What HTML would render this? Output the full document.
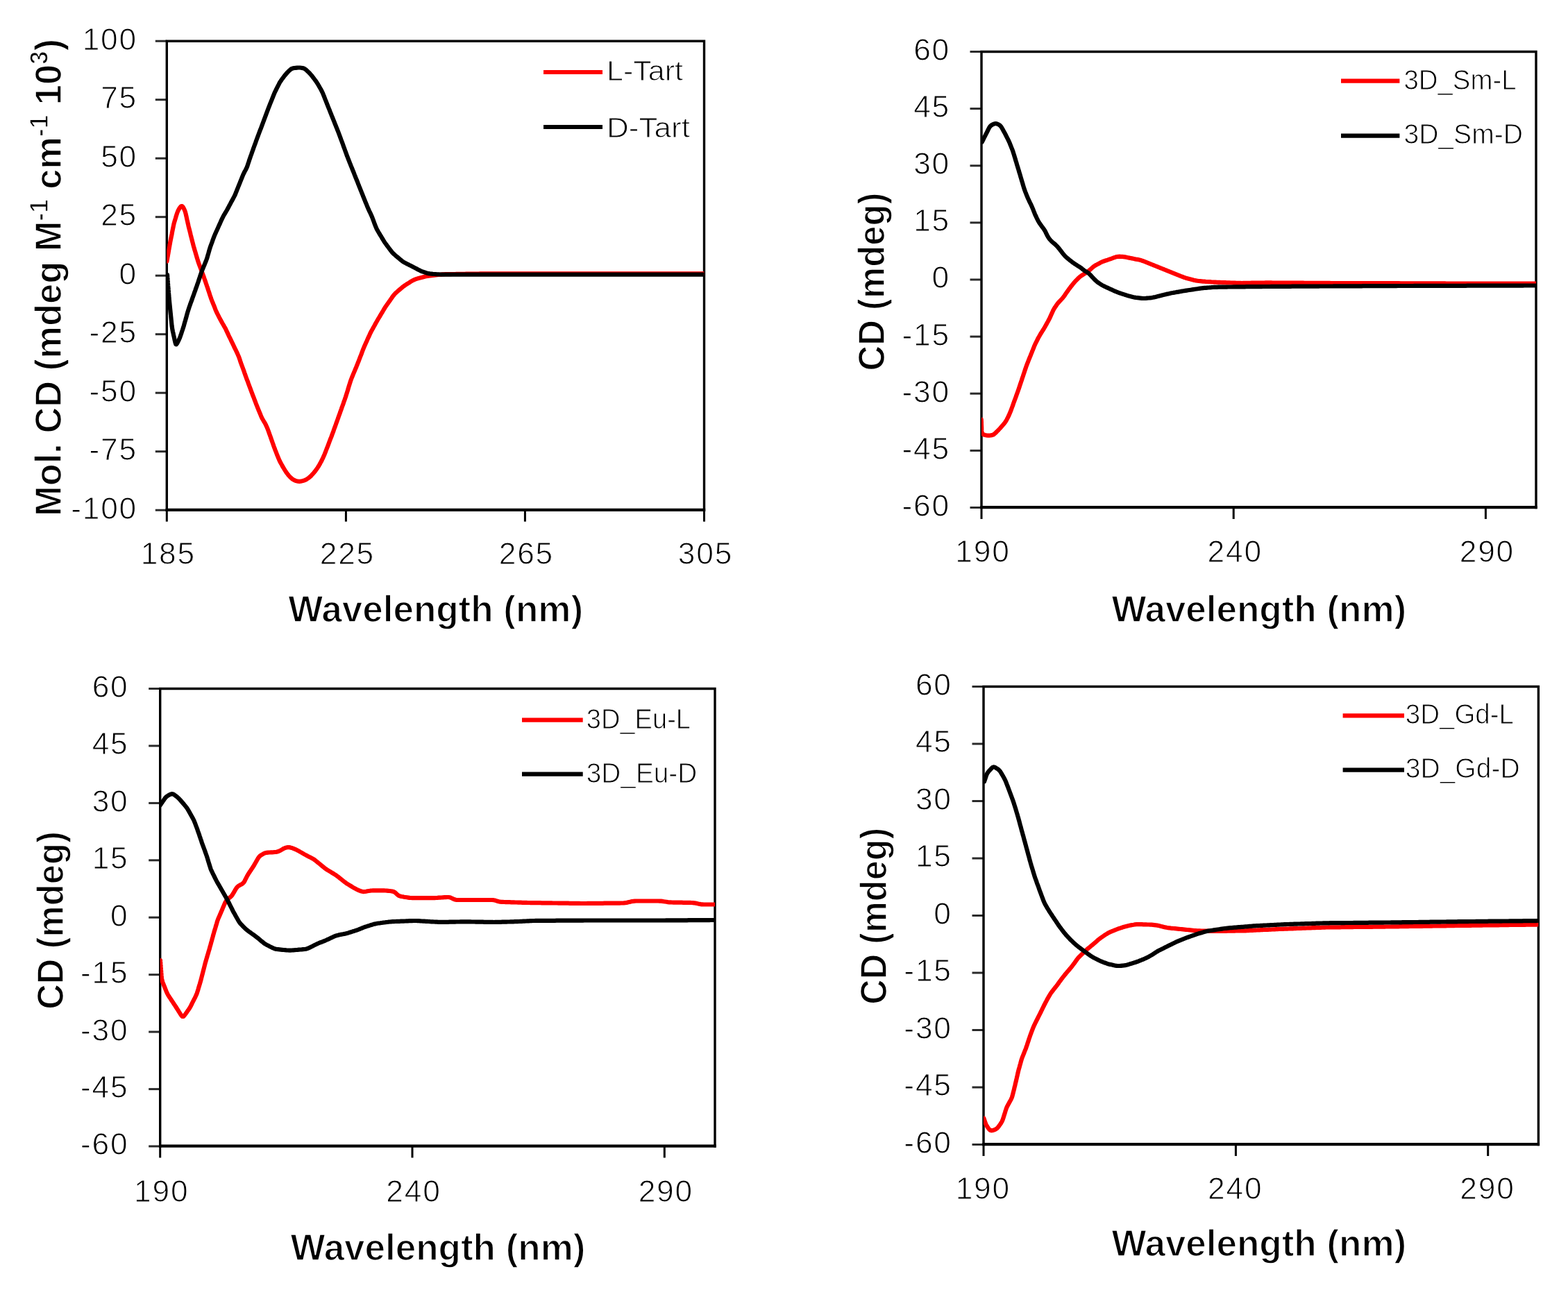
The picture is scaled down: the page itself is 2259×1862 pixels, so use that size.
<!DOCTYPE html>
<html><head><meta charset="utf-8"><title>CD spectra</title>
<style>
html,body{margin:0;padding:0;background:#fff;width:2259px;height:1862px;overflow:hidden}
svg{display:block}
.t{font-family:"Liberation Sans", Arial, sans-serif;font-size:44.3px;letter-spacing:1.8px;fill:#000;stroke:#fff;stroke-width:1px}
.l{font-family:"Liberation Sans", Arial, sans-serif;font-size:40px;fill:#000;stroke:#fff;stroke-width:1px}
.b{font-family:"Liberation Sans", Arial, sans-serif;font-size:54px;font-weight:bold;fill:#000;stroke:#fff;stroke-width:1.5px}
</style></head><body>
<svg width="2259" height="1862" viewBox="0 0 2259 1862">
<rect width="2259" height="1862" fill="#fff"/>
<line x1="223.8" y1="59.2" x2="240.3" y2="59.2" stroke="#2a2a2a" stroke-width="3.0"/>
<text x="198.0" y="71.6" text-anchor="end" class="t">100</text>
<line x1="223.8" y1="143.7" x2="240.3" y2="143.7" stroke="#2a2a2a" stroke-width="3.0"/>
<text x="198.0" y="156.1" text-anchor="end" class="t">75</text>
<line x1="223.8" y1="228.2" x2="240.3" y2="228.2" stroke="#2a2a2a" stroke-width="3.0"/>
<text x="198.0" y="240.6" text-anchor="end" class="t">50</text>
<line x1="223.8" y1="312.7" x2="240.3" y2="312.7" stroke="#2a2a2a" stroke-width="3.0"/>
<text x="198.0" y="325.1" text-anchor="end" class="t">25</text>
<line x1="223.8" y1="397.2" x2="240.3" y2="397.2" stroke="#2a2a2a" stroke-width="3.0"/>
<text x="198.0" y="409.6" text-anchor="end" class="t">0</text>
<line x1="223.8" y1="481.7" x2="240.3" y2="481.7" stroke="#2a2a2a" stroke-width="3.0"/>
<text x="198.0" y="494.1" text-anchor="end" class="t">-25</text>
<line x1="223.8" y1="566.2" x2="240.3" y2="566.2" stroke="#2a2a2a" stroke-width="3.0"/>
<text x="198.0" y="578.6" text-anchor="end" class="t">-50</text>
<line x1="223.8" y1="650.7" x2="240.3" y2="650.7" stroke="#2a2a2a" stroke-width="3.0"/>
<text x="198.0" y="663.1" text-anchor="end" class="t">-75</text>
<line x1="223.8" y1="735.2" x2="240.3" y2="735.2" stroke="#2a2a2a" stroke-width="3.0"/>
<text x="198.0" y="747.6" text-anchor="end" class="t">-100</text>
<line x1="240.3" y1="735.2" x2="240.3" y2="751.7" stroke="#000" stroke-width="3.0"/>
<text x="242.3" y="813.0" text-anchor="middle" class="t">185</text>
<line x1="498.4" y1="735.2" x2="498.4" y2="751.7" stroke="#000" stroke-width="3.0"/>
<text x="500.4" y="813.0" text-anchor="middle" class="t">225</text>
<line x1="756.4" y1="735.2" x2="756.4" y2="751.7" stroke="#000" stroke-width="3.0"/>
<text x="758.4" y="813.0" text-anchor="middle" class="t">265</text>
<line x1="1014.5" y1="735.2" x2="1014.5" y2="751.7" stroke="#000" stroke-width="3.0"/>
<text x="1016.5" y="813.0" text-anchor="middle" class="t">305</text>
<path d="M240.3,735.2 V59.2 H1014.5 V735.2" fill="none" stroke="#000" stroke-width="3.4" stroke-linecap="square"/>
<line x1="238.6" y1="734.9" x2="1016.2" y2="734.9" stroke="#000" stroke-width="4.3"/>
<clipPath id="c1"><rect x="240.3" y="59.2" width="774.2" height="676.0"/></clipPath>
<g clip-path="url(#c1)" fill="none" stroke-width="6.2" stroke-linejoin="round" stroke-linecap="round">
<path d="M240.4,376.7 240.7,374.7 241.1,372.8 241.4,370.8 241.8,368.8 242.1,366.8 242.5,364.9 242.8,362.9 243.1,360.9 243.5,358.9 243.8,357.0 244.2,355.0 244.5,353.0 244.9,351.1 245.2,349.1 245.6,347.1 246.0,345.2 246.4,343.2 246.8,341.2 247.2,339.3 247.6,337.3 247.9,335.3 248.3,333.4 248.7,331.4 249.1,329.4 249.5,327.5 249.9,325.5 250.3,323.6 250.8,321.6 251.3,319.7 251.9,317.8 252.5,315.9 253.1,313.9 253.6,312.0 254.2,310.1 254.8,308.2 255.5,306.3 256.2,304.5 257.0,302.7 258.0,301.0 259.1,299.3 260.2,297.9 261.3,297.0 262.3,297.1 263.4,298.1 264.4,299.7 265.3,301.4 266.1,303.2 266.8,305.1 267.3,307.0 267.8,308.9 268.2,310.9 268.7,312.8 269.1,314.8 269.5,316.7 270.0,318.7 270.4,320.7 270.8,322.6 271.3,324.6 271.7,326.5 272.2,328.5 272.7,330.4 273.2,332.3 273.7,334.3 274.2,336.2 274.6,338.2 275.1,340.1 275.6,342.0 276.1,344.0 276.6,345.9 277.1,347.9 277.6,349.8 278.1,351.8 278.6,353.7 279.1,355.6 279.7,357.5 280.2,359.5 280.8,361.4 281.4,363.3 281.9,365.2 282.5,367.1 283.1,369.1 283.6,371.0 284.2,372.9 284.8,374.8 285.4,376.7 286.0,378.6 286.7,380.5 287.4,382.4 288.1,384.3 288.8,386.1 289.5,388.0 290.2,389.9 290.9,391.8 291.6,393.6 292.3,395.5 293.0,397.4 293.7,399.3 294.3,401.2 295.0,403.1 295.6,404.9 296.3,406.8 296.9,408.7 297.6,410.6 298.2,412.5 298.9,414.4 299.5,416.3 300.1,418.2 300.8,420.1 301.4,422.0 302.0,423.9 302.6,425.8 303.3,427.7 303.9,429.6 304.6,431.5 305.3,433.4 306.1,435.2 306.8,437.1 307.6,438.9 308.4,440.8 309.1,442.6 309.8,444.5 310.5,446.4 311.3,448.2 312.1,450.0 313.0,451.8 313.9,453.6 314.8,455.4 315.7,457.2 316.7,459.0 317.6,460.7 318.6,462.5 319.5,464.2 320.5,466.0 321.5,467.7 322.5,469.4 323.5,471.2 324.5,472.9 325.4,474.7 326.2,476.5 327.1,478.3 327.9,480.2 328.8,482.0 329.6,483.8 330.5,485.6 331.4,487.4 332.3,489.2 333.1,491.0 334.0,492.8 334.9,494.6 335.7,496.4 336.6,498.2 337.4,500.0 338.3,501.8 339.2,503.6 340.1,505.4 340.9,507.2 341.8,509.0 342.6,510.9 343.4,512.7 344.2,514.5 344.8,516.4 345.5,518.3 346.1,520.2 346.7,522.1 347.4,524.0 348.1,525.9 348.8,527.8 349.5,529.6 350.2,531.5 350.9,533.4 351.6,535.3 352.2,537.2 352.9,539.1 353.5,540.9 354.2,542.8 354.9,544.7 355.6,546.6 356.3,548.5 357.1,550.3 357.7,552.2 358.4,554.1 359.1,556.0 359.8,557.9 360.5,559.7 361.2,561.6 361.9,563.5 362.6,565.4 363.3,567.2 364.0,569.1 364.7,571.0 365.5,572.8 366.2,574.7 366.9,576.6 367.6,578.4 368.3,580.3 369.0,582.2 369.8,584.1 370.5,585.9 371.2,587.8 372.0,589.6 372.7,591.5 373.5,593.3 374.3,595.2 375.1,597.0 375.8,598.9 376.6,600.7 377.4,602.5 378.4,604.3 379.4,606.0 380.4,607.7 381.5,609.4 382.4,611.2 383.3,613.0 384.1,614.8 384.9,616.6 385.7,618.5 386.4,620.3 387.1,622.2 387.7,624.1 388.4,626.0 389.1,627.9 389.8,629.8 390.4,631.7 391.1,633.5 391.7,635.4 392.4,637.3 393.1,639.2 393.8,641.1 394.4,643.0 395.1,644.9 395.8,646.7 396.5,648.6 397.3,650.5 398.0,652.3 398.7,654.2 399.4,656.1 400.2,657.9 400.9,659.8 401.7,661.6 402.5,663.4 403.4,665.3 404.3,667.0 405.3,668.8 406.3,670.5 407.2,672.3 408.3,674.0 409.3,675.7 410.3,677.4 411.4,679.1 412.5,680.8 413.7,682.4 414.9,684.0 416.1,685.5 417.5,687.0 418.9,688.4 420.4,689.7 422.0,690.9 423.7,691.9 425.5,692.7 427.4,693.3 429.3,693.7 431.2,693.8 433.2,693.7 435.1,693.3 437.0,692.8 438.9,692.1 440.7,691.3 442.4,690.3 444.0,689.2 445.6,688.0 447.2,686.7 448.6,685.3 449.9,683.8 451.3,682.4 452.6,680.8 453.8,679.3 455.0,677.7 456.2,676.0 457.3,674.4 458.4,672.7 459.5,671.0 460.5,669.3 461.4,667.5 462.4,665.8 463.3,664.0 464.2,662.2 465.1,660.4 465.9,658.6 466.7,656.7 467.5,654.9 468.2,653.1 469.0,651.2 469.7,649.3 470.4,647.5 471.1,645.6 471.9,643.7 472.6,641.9 473.3,640.0 474.0,638.1 474.7,636.2 475.4,634.4 476.1,632.5 476.9,630.6 477.6,628.8 478.3,626.9 479.0,625.0 479.7,623.1 480.4,621.3 481.0,619.4 481.7,617.5 482.4,615.6 483.1,613.7 483.8,611.8 484.4,610.0 485.1,608.1 485.8,606.2 486.5,604.3 487.2,602.4 487.8,600.5 488.5,598.7 489.2,596.8 489.9,594.9 490.5,593.0 491.2,591.1 491.9,589.2 492.5,587.3 493.2,585.5 493.9,583.6 494.6,581.7 495.2,579.8 495.9,577.9 496.6,576.0 497.2,574.1 497.9,572.2 498.5,570.3 499.1,568.4 499.7,566.5 500.3,564.6 500.9,562.7 501.5,560.8 502.0,558.9 502.6,556.9 503.2,555.0 503.8,553.1 504.4,551.2 505.0,549.3 505.7,547.4 506.4,545.5 507.1,543.7 507.9,541.8 508.6,540.0 509.4,538.1 510.2,536.3 511.0,534.4 511.7,532.6 512.5,530.7 513.3,528.9 514.0,527.0 514.8,525.2 515.5,523.3 516.3,521.5 517.0,519.6 517.7,517.7 518.4,515.9 519.1,514.0 519.9,512.1 520.6,510.3 521.3,508.4 522.0,506.5 522.7,504.6 523.5,502.8 524.2,500.9 525.0,499.1 525.8,497.2 526.6,495.4 527.4,493.6 528.3,491.8 529.1,489.9 529.9,488.1 530.7,486.3 531.6,484.5 532.4,482.7 533.2,480.8 534.1,479.0 535.0,477.3 536.0,475.5 537.0,473.8 537.9,472.0 538.9,470.3 539.9,468.5 540.8,466.8 541.8,465.0 542.8,463.3 543.8,461.5 544.8,459.8 545.8,458.1 546.9,456.4 547.9,454.6 548.9,452.9 549.9,451.2 551.0,449.5 552.0,447.8 553.0,446.0 554.1,444.3 555.1,442.6 556.2,441.0 557.4,439.3 558.5,437.7 559.7,436.0 560.8,434.4 562.0,432.8 563.1,431.1 564.3,429.5 565.4,427.8 566.6,426.2 567.8,424.7 569.1,423.2 570.6,421.8 572.1,420.5 573.6,419.2 575.1,417.9 576.6,416.6 578.1,415.3 579.7,414.0 581.3,412.7 582.9,411.6 584.5,410.5 586.2,409.4 587.9,408.3 589.6,407.3 591.3,406.2 593.0,405.2 594.7,404.2 596.5,403.3 598.3,402.5 600.2,401.9 602.2,401.3 604.1,400.8 606.0,400.3 608.0,399.8 609.9,399.2 611.8,398.7 613.8,398.3 615.7,397.9 617.7,397.6 619.7,397.4 621.7,397.1 623.7,396.9 625.7,396.6 627.6,396.4 629.6,396.2 631.6,396.0 633.6,395.8 635.6,395.6 637.6,395.4 639.6,395.3 641.6,395.2 643.6,395.2 645.6,395.1 647.6,395.1 649.6,395.1 651.6,395.0 653.6,395.0 655.6,395.0 657.6,394.9 659.6,394.9 661.6,394.9 663.6,394.8 665.6,394.8 667.6,394.8 669.6,394.8 671.6,394.7 673.6,394.7 675.6,394.7 677.6,394.6 679.6,394.6 681.6,394.6 683.6,394.5 685.6,394.5 687.6,394.5 689.6,394.5 691.7,394.4 693.7,394.4 695.7,394.4 697.7,394.3 699.7,394.3 701.7,394.3 703.7,394.3 705.7,394.3 707.7,394.3 709.7,394.3 711.7,394.3 713.7,394.3 715.7,394.3 717.7,394.3 719.7,394.3 721.7,394.3 723.7,394.3 725.7,394.3 727.7,394.3 729.7,394.3 731.7,394.3 733.7,394.3 735.7,394.3 737.7,394.3 739.7,394.3 741.7,394.3 743.7,394.3 745.7,394.3 747.7,394.3 749.7,394.3 751.7,394.3 753.7,394.3 755.7,394.3 757.7,394.3 759.7,394.3 761.7,394.3 763.7,394.3 765.7,394.3 767.7,394.3 769.7,394.3 771.7,394.3 773.7,394.3 775.7,394.4 777.7,394.4 779.7,394.4 781.7,394.4 783.7,394.4 785.8,394.4 787.8,394.4 789.8,394.4 791.8,394.4 793.8,394.4 795.8,394.4 797.8,394.4 799.8,394.4 801.8,394.4 803.8,394.4 805.8,394.4 807.8,394.4 809.8,394.4 811.8,394.4 813.8,394.4 815.8,394.4 817.8,394.4 819.8,394.4 821.8,394.4 823.8,394.4 825.8,394.4 827.8,394.4 829.8,394.4 831.8,394.4 833.8,394.4 835.8,394.4 837.8,394.4 839.8,394.4 841.8,394.4 843.8,394.4 845.8,394.4 847.8,394.4 849.8,394.4 851.8,394.4 853.8,394.4 855.8,394.4 857.8,394.4 859.8,394.4 861.8,394.4 863.8,394.4 865.8,394.4 867.8,394.4 869.8,394.4 871.8,394.4 873.8,394.4 875.8,394.4 877.9,394.4 879.9,394.4 881.9,394.4 883.9,394.4 885.9,394.4 887.9,394.4 889.9,394.4 891.9,394.4 893.9,394.4 895.9,394.4 897.9,394.4 899.9,394.4 901.9,394.4 903.9,394.4 905.9,394.4 907.9,394.4 909.9,394.4 911.9,394.4 913.9,394.4 915.9,394.4 917.9,394.4 919.9,394.4 921.9,394.4 923.9,394.4 925.9,394.4 927.9,394.4 929.9,394.4 931.9,394.4 933.9,394.4 935.9,394.4 937.9,394.4 939.9,394.4 941.9,394.4 943.9,394.4 945.9,394.4 947.9,394.4 949.9,394.4 951.9,394.4 953.9,394.4 955.9,394.4 957.9,394.4 959.9,394.4 961.9,394.4 963.9,394.4 965.9,394.4 967.9,394.4 970.0,394.4 972.0,394.4 974.0,394.4 976.0,394.4 978.0,394.4 980.0,394.4 982.0,394.4 984.0,394.4 986.0,394.4 988.0,394.4 990.0,394.4 992.0,394.4 994.0,394.4 996.0,394.4 998.0,394.4 1000.0,394.4 1002.0,394.4 1004.0,394.4 1006.0,394.4 1008.0,394.4 1010.0,394.4 1012.0,394.4 1014.0,394.4 1016.0,394.4 1016.0,394.4" stroke="#ff0000"/>
<path d="M241.0,396.0 241.2,398.0 241.3,400.0 241.5,402.0 241.6,404.0 241.8,406.0 241.9,408.0 242.1,410.0 242.2,412.0 242.4,414.0 242.6,416.0 242.7,418.0 242.9,420.0 243.0,422.0 243.2,423.9 243.3,425.9 243.5,427.9 243.6,429.9 243.8,431.9 244.0,433.9 244.2,435.9 244.4,437.9 244.6,439.9 244.8,441.9 245.0,443.9 245.2,445.9 245.4,447.9 245.6,449.9 245.8,451.9 246.0,453.8 246.2,455.8 246.4,457.8 246.6,459.8 246.8,461.8 247.0,463.8 247.2,465.8 247.4,467.8 247.6,469.8 247.9,471.8 248.2,473.7 248.5,475.7 248.9,477.7 249.4,479.6 249.8,481.6 250.2,483.5 250.7,485.5 251.1,487.4 251.5,489.4 252.0,491.4 252.4,493.3 252.9,495.0 253.4,496.2 254.0,496.4 254.8,495.4 255.7,493.9 256.6,492.1 257.5,490.3 258.3,488.5 259.1,486.7 259.8,484.8 260.4,482.9 261.1,481.0 261.7,479.1 262.3,477.2 263.0,475.3 263.6,473.4 264.2,471.5 264.8,469.6 265.3,467.7 265.9,465.7 266.4,463.8 267.0,461.9 267.5,460.0 268.1,458.0 268.6,456.1 269.1,454.2 269.7,452.2 270.2,450.3 270.8,448.4 271.4,446.5 272.0,444.6 272.6,442.7 273.3,440.8 274.0,438.9 274.6,437.0 275.3,435.1 276.0,433.3 276.7,431.4 277.3,429.5 278.0,427.6 278.7,425.7 279.4,423.8 280.0,421.9 280.7,420.1 281.4,418.2 282.0,416.3 282.7,414.4 283.4,412.5 284.0,410.6 284.7,408.7 285.4,406.8 286.0,404.9 286.6,403.0 287.3,401.1 287.9,399.2 288.5,397.3 289.2,395.4 289.8,393.5 290.5,391.7 291.2,389.8 291.9,387.9 292.7,386.1 293.4,384.2 294.2,382.4 295.0,380.5 295.7,378.7 296.5,376.8 297.2,375.0 297.9,373.1 298.5,371.2 299.1,369.2 299.6,367.3 300.2,365.4 300.7,363.5 301.3,361.5 301.8,359.6 302.4,357.7 303.0,355.8 303.7,353.9 304.4,352.0 305.1,350.2 305.8,348.3 306.4,346.4 307.1,344.5 307.8,342.6 308.5,340.8 309.3,338.9 310.1,337.1 310.9,335.3 311.7,333.4 312.6,331.6 313.4,329.8 314.2,328.0 315.0,326.1 315.8,324.3 316.7,322.5 317.5,320.6 318.3,318.8 319.1,317.0 320.0,315.2 320.8,313.4 321.8,311.6 322.7,309.9 323.8,308.1 324.8,306.4 325.8,304.7 326.8,303.0 327.8,301.2 328.7,299.5 329.7,297.7 330.6,295.9 331.6,294.2 332.5,292.4 333.4,290.6 334.4,288.9 335.4,287.1 336.3,285.3 337.2,283.6 338.1,281.8 339.0,280.0 339.7,278.1 340.5,276.3 341.2,274.4 341.9,272.5 342.7,270.7 343.4,268.8 344.2,267.0 344.9,265.1 345.7,263.2 346.4,261.4 347.2,259.5 347.9,257.7 348.7,255.8 349.4,253.9 350.2,252.1 351.0,250.3 351.9,248.5 352.8,246.7 353.8,245.0 354.7,243.2 355.5,241.4 356.3,239.5 356.9,237.6 357.5,235.7 358.2,233.8 358.8,231.9 359.4,230.0 360.1,228.1 360.7,226.2 361.4,224.3 362.1,222.5 362.7,220.6 363.4,218.7 364.1,216.8 364.8,214.9 365.4,213.0 366.1,211.2 366.8,209.3 367.5,207.4 368.2,205.5 368.8,203.6 369.5,201.7 370.2,199.9 370.9,198.0 371.6,196.1 372.3,194.2 373.0,192.4 373.7,190.5 374.4,188.6 375.1,186.7 375.9,184.9 376.6,183.0 377.3,181.1 378.0,179.2 378.7,177.4 379.4,175.5 380.1,173.6 380.8,171.7 381.5,169.9 382.2,168.0 382.9,166.1 383.6,164.2 384.3,162.4 385.0,160.5 385.7,158.6 386.4,156.7 387.1,154.9 387.9,153.0 388.6,151.2 389.3,149.3 390.1,147.4 390.8,145.6 391.6,143.7 392.3,141.9 393.1,140.0 393.8,138.1 394.6,136.3 395.3,134.4 396.1,132.6 397.0,130.8 397.9,129.0 398.8,127.2 399.7,125.4 400.6,123.6 401.5,121.9 402.4,120.1 403.4,118.3 404.5,116.7 405.6,115.0 406.8,113.4 408.0,111.8 409.2,110.2 410.4,108.6 411.7,107.1 413.0,105.6 414.3,104.1 415.7,102.7 417.2,101.3 418.7,100.0 420.3,99.0 422.1,98.4 424.0,98.0 426.0,97.8 428.0,97.6 430.0,97.5 431.9,97.5 433.9,97.8 435.9,98.1 437.7,98.6 439.4,99.5 441.0,100.6 442.4,102.0 443.9,103.4 445.3,104.8 446.7,106.2 448.0,107.7 449.3,109.2 450.5,110.8 451.7,112.4 452.9,114.0 454.1,115.6 455.3,117.2 456.4,118.9 457.5,120.6 458.5,122.3 459.5,124.0 460.5,125.8 461.5,127.5 462.5,129.3 463.4,131.0 464.3,132.8 465.1,134.6 465.9,136.5 466.6,138.3 467.4,140.2 468.1,142.1 468.8,143.9 469.6,145.8 470.3,147.6 471.0,149.5 471.8,151.4 472.5,153.2 473.3,155.1 474.0,156.9 474.8,158.8 475.5,160.7 476.2,162.5 477.0,164.4 477.7,166.2 478.5,168.1 479.2,170.0 480.0,171.8 480.7,173.7 481.5,175.5 482.2,177.4 482.9,179.3 483.7,181.1 484.4,183.0 485.2,184.8 485.9,186.7 486.7,188.6 487.4,190.4 488.1,192.3 488.8,194.1 489.5,196.0 490.2,197.9 490.9,199.8 491.6,201.7 492.3,203.5 493.0,205.4 493.7,207.3 494.4,209.2 495.0,211.1 495.7,212.9 496.4,214.8 497.1,216.7 497.8,218.6 498.5,220.5 499.2,222.4 499.8,224.2 500.6,226.1 501.3,228.0 502.0,229.8 502.8,231.7 503.5,233.6 504.2,235.4 505.0,237.3 505.7,239.1 506.5,241.0 507.2,242.8 508.0,244.7 508.7,246.6 509.5,248.4 510.2,250.3 510.9,252.1 511.7,254.0 512.4,255.9 513.2,257.7 513.9,259.6 514.7,261.4 515.4,263.3 516.1,265.2 516.9,267.0 517.6,268.9 518.4,270.7 519.1,272.6 519.8,274.5 520.6,276.3 521.3,278.2 522.1,280.0 522.8,281.9 523.5,283.8 524.3,285.6 525.0,287.5 525.8,289.3 526.5,291.2 527.3,293.0 528.1,294.9 528.8,296.7 529.6,298.6 530.4,300.4 531.2,302.3 532.0,304.1 532.9,305.9 533.8,307.7 534.6,309.5 535.4,311.3 536.2,313.2 536.9,315.0 537.6,316.9 538.3,318.8 539.0,320.7 539.7,322.6 540.4,324.4 541.1,326.3 541.9,328.1 542.7,329.9 543.7,331.7 544.7,333.5 545.7,335.2 546.7,336.9 547.7,338.6 548.8,340.3 549.8,342.0 550.8,343.8 551.9,345.5 552.9,347.2 554.0,348.9 555.1,350.5 556.3,352.1 557.5,353.8 558.7,355.4 559.9,357.0 561.1,358.6 562.3,360.2 563.5,361.7 564.7,363.3 566.1,364.8 567.5,366.2 569.0,367.5 570.5,368.8 572.1,370.1 573.6,371.4 575.1,372.7 576.6,374.0 578.2,375.2 579.7,376.5 581.4,377.6 583.1,378.6 584.9,379.5 586.7,380.4 588.5,381.3 590.2,382.2 592.0,383.1 593.8,384.0 595.6,384.9 597.4,385.9 599.2,386.8 600.9,387.7 602.7,388.7 604.5,389.6 606.2,390.5 608.1,391.3 610.0,391.9 611.9,392.5 613.8,393.1 615.7,393.7 617.6,394.1 619.6,394.5 621.6,394.7 623.6,394.9 625.6,395.0 627.6,395.1 629.6,395.3 631.6,395.4 633.6,395.5 635.6,395.6 637.6,395.6 639.6,395.6 641.6,395.6 643.6,395.6 645.6,395.6 647.6,395.6 649.6,395.6 651.6,395.6 653.6,395.6 655.6,395.6 657.6,395.6 659.6,395.6 661.6,395.6 663.6,395.6 665.6,395.6 667.6,395.6 669.6,395.6 671.6,395.6 673.6,395.6 675.6,395.6 677.6,395.6 679.6,395.6 681.6,395.6 683.6,395.6 685.6,395.6 687.6,395.6 689.6,395.6 691.6,395.6 693.6,395.6 695.6,395.6 697.6,395.6 699.6,395.6 701.6,395.6 703.6,395.6 705.6,395.6 707.6,395.6 709.6,395.6 711.6,395.6 713.7,395.6 715.7,395.6 717.7,395.7 719.7,395.7 721.7,395.7 723.7,395.7 725.7,395.7 727.7,395.7 729.7,395.7 731.7,395.7 733.7,395.7 735.7,395.7 737.7,395.7 739.7,395.7 741.7,395.7 743.7,395.7 745.7,395.7 747.7,395.7 749.7,395.7 751.7,395.7 753.7,395.7 755.7,395.7 757.7,395.7 759.7,395.7 761.7,395.7 763.7,395.7 765.7,395.7 767.7,395.7 769.7,395.7 771.7,395.7 773.7,395.7 775.7,395.7 777.7,395.7 779.7,395.7 781.7,395.7 783.7,395.7 785.7,395.7 787.7,395.7 789.7,395.7 791.7,395.7 793.7,395.7 795.7,395.7 797.7,395.7 799.8,395.7 801.8,395.7 803.8,395.7 805.8,395.7 807.8,395.7 809.8,395.7 811.8,395.7 813.8,395.7 815.8,395.7 817.8,395.7 819.8,395.7 821.8,395.7 823.8,395.7 825.8,395.7 827.8,395.7 829.8,395.7 831.8,395.7 833.8,395.7 835.8,395.7 837.8,395.7 839.8,395.7 841.8,395.7 843.8,395.7 845.8,395.7 847.8,395.7 849.8,395.7 851.8,395.7 853.8,395.7 855.8,395.7 857.8,395.7 859.8,395.7 861.8,395.7 863.8,395.7 865.8,395.7 867.8,395.7 869.8,395.7 871.8,395.7 873.8,395.7 875.8,395.7 877.8,395.7 879.8,395.7 881.8,395.7 883.8,395.7 885.9,395.7 887.9,395.7 889.9,395.7 891.9,395.7 893.9,395.7 895.9,395.7 897.9,395.7 899.9,395.7 901.9,395.7 903.9,395.7 905.9,395.7 907.9,395.7 909.9,395.7 911.9,395.7 913.9,395.7 915.9,395.7 917.9,395.7 919.9,395.7 921.9,395.7 923.9,395.7 925.9,395.7 927.9,395.7 929.9,395.7 931.9,395.7 933.9,395.7 935.9,395.7 937.9,395.7 939.9,395.7 941.9,395.7 943.9,395.7 945.9,395.7 947.9,395.7 949.9,395.7 951.9,395.7 953.9,395.7 955.9,395.7 957.9,395.7 959.9,395.7 961.9,395.7 963.9,395.7 965.9,395.7 967.9,395.7 969.9,395.7 971.9,395.7 974.0,395.7 976.0,395.7 978.0,395.7 980.0,395.7 982.0,395.7 984.0,395.7 986.0,395.7 988.0,395.7 990.0,395.7 992.0,395.7 994.0,395.7 996.0,395.7 998.0,395.7 1000.0,395.7 1002.0,395.7 1004.0,395.7 1006.0,395.7 1008.0,395.7 1010.0,395.7 1012.0,395.7 1014.0,395.7 1016.0,395.7 1016.0,395.7" stroke="#000"/>
</g>
<text x="415.3" y="895.5" textLength="424.8" lengthAdjust="spacingAndGlyphs" class="b">Wavelength (nm)</text>
<text transform="translate(87.7,744.0) rotate(-90)" x="0" y="0" textLength="688.0" lengthAdjust="spacingAndGlyphs" class="b">Mol. CD (mdeg M<tspan font-size="36" dy="-18.7">-1</tspan><tspan dy="18.7"> cm</tspan><tspan font-size="36" dy="-18.7">-1</tspan><tspan dy="18.7"> 10</tspan><tspan font-size="36" dy="-18.7">3</tspan><tspan dy="18.7">)</tspan></text>
<line x1="783.0" y1="104.0" x2="868.0" y2="104.0" stroke="#ff0000" stroke-width="6.2"/>
<text x="874.0" y="115.6" textLength="110.0" lengthAdjust="spacingAndGlyphs" class="l">L-Tart</text>
<line x1="783.0" y1="183.0" x2="868.0" y2="183.0" stroke="#000" stroke-width="6.2"/>
<text x="874.0" y="197.6" textLength="120.0" lengthAdjust="spacingAndGlyphs" class="l">D-Tart</text>
<line x1="1397.5" y1="74.5" x2="1414.0" y2="74.5" stroke="#2a2a2a" stroke-width="3.0"/>
<text x="1369.0" y="86.9" text-anchor="end" class="t">60</text>
<line x1="1397.5" y1="156.6" x2="1414.0" y2="156.6" stroke="#2a2a2a" stroke-width="3.0"/>
<text x="1369.0" y="169.0" text-anchor="end" class="t">45</text>
<line x1="1397.5" y1="238.8" x2="1414.0" y2="238.8" stroke="#2a2a2a" stroke-width="3.0"/>
<text x="1369.0" y="251.2" text-anchor="end" class="t">30</text>
<line x1="1397.5" y1="320.9" x2="1414.0" y2="320.9" stroke="#2a2a2a" stroke-width="3.0"/>
<text x="1369.0" y="333.3" text-anchor="end" class="t">15</text>
<line x1="1397.5" y1="403.0" x2="1414.0" y2="403.0" stroke="#2a2a2a" stroke-width="3.0"/>
<text x="1369.0" y="415.4" text-anchor="end" class="t">0</text>
<line x1="1397.5" y1="485.1" x2="1414.0" y2="485.1" stroke="#2a2a2a" stroke-width="3.0"/>
<text x="1369.0" y="497.5" text-anchor="end" class="t">-15</text>
<line x1="1397.5" y1="567.2" x2="1414.0" y2="567.2" stroke="#2a2a2a" stroke-width="3.0"/>
<text x="1369.0" y="579.6" text-anchor="end" class="t">-30</text>
<line x1="1397.5" y1="649.4" x2="1414.0" y2="649.4" stroke="#2a2a2a" stroke-width="3.0"/>
<text x="1369.0" y="661.8" text-anchor="end" class="t">-45</text>
<line x1="1397.5" y1="731.5" x2="1414.0" y2="731.5" stroke="#2a2a2a" stroke-width="3.0"/>
<text x="1369.0" y="743.9" text-anchor="end" class="t">-60</text>
<line x1="1414.0" y1="731.5" x2="1414.0" y2="748.0" stroke="#000" stroke-width="3.0"/>
<text x="1416.0" y="810.4" text-anchor="middle" class="t">190</text>
<line x1="1777.2" y1="731.5" x2="1777.2" y2="748.0" stroke="#000" stroke-width="3.0"/>
<text x="1779.2" y="810.4" text-anchor="middle" class="t">240</text>
<line x1="2140.4" y1="731.5" x2="2140.4" y2="748.0" stroke="#000" stroke-width="3.0"/>
<text x="2142.4" y="810.4" text-anchor="middle" class="t">290</text>
<path d="M1414.0,731.5 V74.5 H2213.0 V731.5" fill="none" stroke="#000" stroke-width="3.4" stroke-linecap="square"/>
<line x1="1412.3" y1="731.2" x2="2214.7" y2="731.2" stroke="#000" stroke-width="4.3"/>
<clipPath id="c2"><rect x="1414.0" y="74.5" width="799.0" height="657.0"/></clipPath>
<g clip-path="url(#c2)" fill="none" stroke-width="6.2" stroke-linejoin="round" stroke-linecap="round">
<path d="M1413.7,604.7 1413.8,606.7 1413.9,608.7 1413.9,610.7 1414.0,612.7 1414.1,614.7 1414.2,616.7 1414.2,618.7 1414.3,620.7 1414.5,622.6 1415.0,624.3 1416.0,625.6 1417.5,626.5 1419.4,627.0 1421.3,627.4 1423.2,627.6 1425.2,627.6 1427.2,627.4 1429.1,627.1 1430.9,626.5 1432.5,625.5 1434.0,624.2 1435.4,622.8 1436.8,621.4 1438.2,620.0 1439.6,618.5 1441.0,617.0 1442.3,615.5 1443.6,614.0 1444.9,612.5 1446.2,611.0 1447.5,609.4 1448.6,607.8 1449.7,606.1 1450.6,604.4 1451.5,602.6 1452.4,600.8 1453.3,599.0 1454.1,597.2 1454.9,595.3 1455.7,593.5 1456.4,591.6 1457.1,589.7 1457.8,587.8 1458.5,586.0 1459.2,584.1 1459.8,582.2 1460.5,580.3 1461.2,578.4 1461.9,576.5 1462.6,574.7 1463.3,572.8 1464.0,570.9 1464.6,569.0 1465.3,567.1 1466.0,565.2 1466.7,563.4 1467.3,561.5 1468.0,559.6 1468.6,557.7 1469.2,555.8 1469.9,553.9 1470.5,552.0 1471.1,550.1 1471.8,548.2 1472.4,546.3 1473.0,544.4 1473.7,542.5 1474.3,540.6 1474.9,538.7 1475.6,536.8 1476.2,534.8 1476.9,532.9 1477.5,531.0 1478.1,529.2 1478.8,527.3 1479.5,525.4 1480.2,523.5 1481.0,521.7 1481.7,519.8 1482.4,517.9 1483.2,516.1 1483.9,514.2 1484.7,512.4 1485.4,510.5 1486.2,508.6 1486.9,506.8 1487.7,504.9 1488.4,503.1 1489.2,501.2 1489.9,499.3 1490.7,497.5 1491.5,495.7 1492.4,493.9 1493.3,492.1 1494.2,490.3 1495.1,488.5 1496.0,486.7 1497.0,485.0 1498.0,483.2 1499.0,481.5 1500.1,479.8 1501.1,478.1 1502.2,476.4 1503.3,474.7 1504.3,473.0 1505.3,471.3 1506.3,469.5 1507.3,467.8 1508.2,466.0 1509.2,464.3 1510.2,462.5 1511.1,460.7 1512.0,459.0 1512.9,457.2 1513.7,455.3 1514.5,453.5 1515.3,451.7 1516.2,449.8 1517.0,448.0 1517.9,446.2 1518.9,444.5 1520.0,442.8 1521.1,441.2 1522.2,439.5 1523.4,437.9 1524.6,436.3 1526.0,434.8 1527.4,433.4 1528.7,432.0 1530.1,430.5 1531.4,429.0 1532.6,427.4 1533.8,425.8 1534.9,424.1 1536.0,422.5 1537.2,420.8 1538.3,419.2 1539.5,417.5 1540.7,415.9 1541.9,414.3 1543.1,412.7 1544.3,411.2 1545.6,409.6 1546.9,408.0 1548.2,406.5 1549.5,405.0 1550.9,403.6 1552.3,402.2 1553.7,400.8 1555.2,399.4 1556.7,398.2 1558.4,397.0 1560.1,396.0 1561.8,394.9 1563.5,393.9 1565.2,392.8 1566.8,391.7 1568.4,390.4 1569.9,389.1 1571.4,387.8 1572.9,386.5 1574.4,385.2 1576.0,383.9 1577.6,382.8 1579.4,381.8 1581.1,380.8 1582.9,379.9 1584.6,379.0 1586.4,378.1 1588.2,377.2 1590.1,376.5 1592.0,375.8 1593.9,375.2 1595.8,374.6 1597.7,373.9 1599.6,373.3 1601.5,372.6 1603.4,371.9 1605.2,371.2 1607.1,370.6 1609.0,370.1 1611.0,369.8 1612.9,369.7 1614.9,369.8 1616.9,369.9 1618.9,370.1 1620.9,370.4 1622.8,370.8 1624.8,371.2 1626.8,371.6 1628.7,372.0 1630.7,372.4 1632.7,372.8 1634.6,373.2 1636.6,373.6 1638.6,373.9 1640.5,374.3 1642.5,374.8 1644.4,375.3 1646.3,376.0 1648.2,376.7 1650.0,377.4 1651.9,378.2 1653.7,378.9 1655.6,379.7 1657.4,380.4 1659.3,381.2 1661.2,381.9 1663.0,382.7 1664.9,383.4 1666.8,384.1 1668.6,384.9 1670.5,385.6 1672.3,386.4 1674.2,387.1 1676.1,387.8 1677.9,388.6 1679.8,389.3 1681.6,390.1 1683.5,390.8 1685.4,391.6 1687.2,392.3 1689.1,393.1 1690.9,393.8 1692.8,394.6 1694.6,395.3 1696.5,396.1 1698.4,396.8 1700.2,397.6 1702.1,398.3 1704.0,399.0 1705.8,399.8 1707.7,400.4 1709.6,401.1 1711.5,401.6 1713.5,402.1 1715.4,402.6 1717.3,403.1 1719.3,403.6 1721.2,404.0 1723.2,404.4 1725.2,404.7 1727.2,405.0 1729.2,405.2 1731.2,405.4 1733.2,405.6 1735.2,405.7 1737.1,405.9 1739.1,406.0 1741.1,406.1 1743.1,406.2 1745.1,406.4 1747.1,406.5 1749.1,406.6 1751.2,406.7 1753.2,406.8 1755.2,406.9 1757.2,406.9 1759.2,407.0 1761.2,407.1 1763.2,407.1 1765.2,407.2 1767.2,407.3 1769.2,407.4 1771.2,407.4 1773.2,407.5 1775.2,407.6 1777.2,407.6 1779.2,407.7 1781.2,407.8 1783.2,407.8 1785.2,407.9 1787.2,407.9 1789.2,408.0 1791.2,407.9 1793.2,407.9 1795.2,407.9 1797.2,407.8 1799.2,407.8 1801.2,407.8 1803.2,407.7 1805.2,407.7 1807.2,407.7 1809.2,407.6 1811.2,407.6 1813.2,407.6 1815.2,407.6 1817.2,407.5 1819.3,407.5 1821.3,407.5 1823.3,407.4 1825.3,407.4 1827.3,407.4 1829.3,407.4 1831.3,407.4 1833.3,407.5 1835.3,407.5 1837.3,407.5 1839.3,407.5 1841.3,407.5 1843.3,407.5 1845.3,407.5 1847.3,407.6 1849.3,407.6 1851.3,407.6 1853.3,407.6 1855.3,407.6 1857.3,407.6 1859.3,407.6 1861.3,407.6 1863.3,407.7 1865.3,407.7 1867.3,407.7 1869.3,407.7 1871.3,407.7 1873.4,407.7 1875.4,407.7 1877.4,407.7 1879.4,407.8 1881.4,407.8 1883.4,407.8 1885.4,407.8 1887.4,407.8 1889.4,407.8 1891.4,407.8 1893.4,407.9 1895.4,407.9 1897.4,407.9 1899.4,407.9 1901.4,407.9 1903.4,407.9 1905.4,407.9 1907.4,407.9 1909.4,407.9 1911.4,407.9 1913.4,407.9 1915.4,407.9 1917.4,408.0 1919.4,408.0 1921.4,408.0 1923.4,408.0 1925.5,408.0 1927.5,408.0 1929.5,408.0 1931.5,408.0 1933.5,408.0 1935.5,408.0 1937.5,408.0 1939.5,408.0 1941.5,408.0 1943.5,408.0 1945.5,408.0 1947.5,408.0 1949.5,408.0 1951.5,408.1 1953.5,408.1 1955.5,408.1 1957.5,408.1 1959.5,408.1 1961.5,408.1 1963.5,408.1 1965.5,408.1 1967.5,408.1 1969.5,408.1 1971.5,408.1 1973.5,408.1 1975.5,408.1 1977.5,408.1 1979.6,408.1 1981.6,408.1 1983.6,408.2 1985.6,408.2 1987.6,408.2 1989.6,408.2 1991.6,408.2 1993.6,408.2 1995.6,408.2 1997.6,408.2 1999.6,408.2 2001.6,408.2 2003.6,408.2 2005.6,408.2 2007.6,408.2 2009.6,408.2 2011.6,408.2 2013.6,408.2 2015.6,408.2 2017.6,408.3 2019.6,408.3 2021.6,408.3 2023.6,408.3 2025.6,408.3 2027.6,408.3 2029.6,408.3 2031.7,408.3 2033.7,408.3 2035.7,408.3 2037.7,408.3 2039.7,408.3 2041.7,408.3 2043.7,408.3 2045.7,408.3 2047.7,408.3 2049.7,408.3 2051.7,408.4 2053.7,408.4 2055.7,408.4 2057.7,408.4 2059.7,408.4 2061.7,408.4 2063.7,408.4 2065.7,408.4 2067.7,408.4 2069.7,408.4 2071.7,408.4 2073.7,408.4 2075.7,408.4 2077.7,408.4 2079.7,408.4 2081.7,408.4 2083.8,408.5 2085.8,408.5 2087.8,408.5 2089.8,408.5 2091.8,408.5 2093.8,408.5 2095.8,408.5 2097.8,408.5 2099.8,408.5 2101.8,408.5 2103.8,408.5 2105.8,408.5 2107.8,408.5 2109.8,408.5 2111.8,408.5 2113.8,408.5 2115.8,408.5 2117.8,408.5 2119.8,408.5 2121.8,408.5 2123.8,408.5 2125.8,408.5 2127.8,408.5 2129.8,408.5 2131.8,408.5 2133.8,408.5 2135.8,408.5 2137.9,408.5 2139.9,408.5 2141.9,408.5 2143.9,408.5 2145.9,408.5 2147.9,408.5 2149.9,408.5 2151.9,408.5 2153.9,408.5 2155.9,408.5 2157.9,408.5 2159.9,408.5 2161.9,408.5 2163.9,408.5 2165.9,408.5 2167.9,408.5 2169.9,408.5 2171.9,408.5 2173.9,408.5 2175.9,408.5 2177.9,408.5 2179.9,408.5 2181.9,408.5 2183.9,408.5 2185.9,408.5 2187.9,408.5 2190.0,408.5 2192.0,408.5 2194.0,408.5 2196.0,408.5 2198.0,408.5 2200.0,408.5 2202.0,408.5 2204.0,408.5 2206.0,408.5 2208.0,408.5 2210.0,408.5 2212.0,408.5 2214.0,408.5 2215.0,408.5" stroke="#ff0000"/>
<path d="M1414.8,204.6 1415.7,202.8 1416.6,201.0 1417.5,199.2 1418.4,197.4 1419.3,195.7 1420.2,193.9 1421.1,192.1 1422.0,190.3 1422.9,188.5 1423.8,186.7 1424.7,184.9 1425.6,183.2 1426.8,181.7 1428.3,180.5 1429.9,179.5 1431.7,178.7 1433.5,178.1 1435.3,178.1 1437.1,178.7 1438.8,179.5 1440.4,180.6 1441.8,181.9 1442.9,183.5 1443.9,185.2 1444.9,187.0 1445.8,188.7 1446.8,190.5 1447.8,192.3 1448.7,194.0 1449.6,195.8 1450.5,197.6 1451.4,199.4 1452.3,201.2 1453.2,203.0 1454.0,204.8 1454.8,206.6 1455.5,208.5 1456.3,210.4 1457.0,212.2 1457.8,214.1 1458.5,215.9 1459.2,217.8 1459.8,219.7 1460.4,221.6 1461.0,223.5 1461.6,225.5 1462.2,227.4 1462.7,229.3 1463.3,231.2 1463.9,233.1 1464.5,235.0 1465.0,237.0 1465.6,238.9 1466.2,240.8 1466.8,242.7 1467.4,244.6 1467.9,246.5 1468.5,248.5 1469.1,250.4 1469.7,252.3 1470.2,254.2 1470.8,256.1 1471.4,258.1 1471.9,260.0 1472.5,261.9 1473.1,263.8 1473.6,265.7 1474.2,267.7 1474.8,269.6 1475.4,271.5 1476.0,273.4 1476.7,275.3 1477.4,277.1 1478.2,279.0 1478.9,280.9 1479.7,282.7 1480.4,284.6 1481.2,286.4 1482.1,288.2 1482.9,290.0 1483.8,291.8 1484.7,293.6 1485.6,295.4 1486.4,297.2 1487.2,299.1 1488.0,300.9 1488.7,302.8 1489.4,304.6 1490.2,306.5 1490.9,308.4 1491.7,310.2 1492.6,312.0 1493.4,313.8 1494.3,315.6 1495.2,317.4 1496.2,319.2 1497.2,320.9 1498.3,322.5 1499.5,324.2 1500.6,325.8 1501.8,327.4 1503.0,329.0 1504.1,330.6 1505.2,332.3 1506.2,334.1 1507.0,335.9 1507.9,337.7 1508.8,339.5 1509.8,341.2 1510.9,342.9 1512.0,344.5 1513.3,346.0 1514.7,347.5 1516.1,348.8 1517.7,350.1 1519.2,351.4 1520.7,352.7 1522.1,354.1 1523.5,355.5 1524.8,357.1 1526.1,358.6 1527.3,360.2 1528.5,361.7 1529.7,363.3 1530.9,364.9 1532.2,366.5 1533.5,368.0 1534.8,369.5 1536.3,370.8 1537.8,372.1 1539.3,373.4 1540.9,374.7 1542.5,375.9 1544.1,377.2 1545.7,378.4 1547.3,379.5 1548.9,380.7 1550.6,381.7 1552.3,382.8 1554.0,383.8 1555.7,384.9 1557.3,386.1 1558.9,387.3 1560.4,388.6 1562.0,389.8 1563.7,390.8 1565.4,391.9 1567.1,392.9 1568.7,394.1 1570.1,395.5 1571.5,396.9 1572.8,398.4 1574.2,399.9 1575.6,401.3 1577.0,402.8 1578.4,404.2 1579.9,405.5 1581.4,406.8 1583.0,407.9 1584.7,409.0 1586.4,410.1 1588.1,411.1 1589.9,412.1 1591.7,412.9 1593.5,413.8 1595.3,414.6 1597.1,415.4 1598.9,416.3 1600.8,417.1 1602.6,417.9 1604.4,418.8 1606.2,419.6 1608.1,420.4 1609.9,421.1 1611.8,421.8 1613.7,422.5 1615.6,423.1 1617.5,423.8 1619.4,424.4 1621.3,425.0 1623.2,425.6 1625.1,426.2 1627.1,426.7 1629.0,427.2 1630.9,427.7 1632.9,428.2 1634.8,428.6 1636.8,429.0 1638.8,429.2 1640.8,429.4 1642.8,429.6 1644.8,429.8 1646.7,430.0 1648.7,430.0 1650.7,429.9 1652.7,429.7 1654.7,429.5 1656.7,429.3 1658.7,429.1 1660.7,428.8 1662.6,428.4 1664.6,428.0 1666.5,427.5 1668.4,426.9 1670.4,426.4 1672.3,425.9 1674.3,425.4 1676.2,425.0 1678.2,424.5 1680.1,424.1 1682.1,423.6 1684.0,423.2 1686.0,422.7 1687.9,422.3 1689.9,422.0 1691.9,421.6 1693.8,421.3 1695.8,420.9 1697.8,420.6 1699.8,420.2 1701.7,419.9 1703.7,419.5 1705.7,419.2 1707.7,418.9 1709.6,418.6 1711.6,418.3 1713.6,418.0 1715.6,417.7 1717.6,417.4 1719.5,417.1 1721.5,416.8 1723.5,416.5 1725.5,416.2 1727.5,415.9 1729.4,415.6 1731.4,415.3 1733.4,415.1 1735.4,414.9 1737.4,414.8 1739.4,414.6 1741.4,414.5 1743.4,414.3 1745.4,414.2 1747.4,414.0 1749.4,413.9 1751.4,413.8 1753.4,413.8 1755.4,413.7 1757.4,413.7 1759.4,413.7 1761.4,413.7 1763.4,413.6 1765.4,413.6 1767.4,413.6 1769.4,413.5 1771.4,413.5 1773.4,413.5 1775.4,413.5 1777.4,413.4 1779.4,413.4 1781.4,413.4 1783.4,413.4 1785.4,413.3 1787.4,413.3 1789.4,413.3 1791.4,413.3 1793.4,413.3 1795.4,413.2 1797.4,413.2 1799.4,413.2 1801.4,413.2 1803.5,413.2 1805.5,413.2 1807.5,413.1 1809.5,413.1 1811.5,413.1 1813.5,413.1 1815.5,413.1 1817.5,413.1 1819.5,413.0 1821.5,413.0 1823.5,413.0 1825.5,413.0 1827.5,413.0 1829.5,413.0 1831.5,412.9 1833.5,412.9 1835.5,412.9 1837.5,412.9 1839.5,412.9 1841.5,412.9 1843.5,412.9 1845.5,412.8 1847.5,412.8 1849.5,412.8 1851.5,412.8 1853.5,412.8 1855.5,412.8 1857.5,412.8 1859.5,412.8 1861.5,412.7 1863.5,412.7 1865.5,412.7 1867.5,412.7 1869.5,412.7 1871.5,412.7 1873.5,412.7 1875.5,412.7 1877.5,412.7 1879.6,412.7 1881.6,412.6 1883.6,412.6 1885.6,412.6 1887.6,412.6 1889.6,412.6 1891.6,412.6 1893.6,412.6 1895.6,412.6 1897.6,412.6 1899.6,412.6 1901.6,412.5 1903.6,412.5 1905.6,412.5 1907.6,412.5 1909.6,412.5 1911.6,412.5 1913.6,412.5 1915.6,412.5 1917.6,412.5 1919.6,412.5 1921.6,412.4 1923.6,412.4 1925.6,412.4 1927.6,412.4 1929.6,412.4 1931.6,412.4 1933.6,412.4 1935.6,412.4 1937.6,412.4 1939.6,412.4 1941.6,412.3 1943.6,412.3 1945.6,412.3 1947.6,412.3 1949.6,412.3 1951.6,412.3 1953.6,412.3 1955.7,412.3 1957.7,412.3 1959.7,412.3 1961.7,412.3 1963.7,412.2 1965.7,412.2 1967.7,412.2 1969.7,412.2 1971.7,412.2 1973.7,412.2 1975.7,412.2 1977.7,412.2 1979.7,412.2 1981.7,412.2 1983.7,412.2 1985.7,412.2 1987.7,412.1 1989.7,412.1 1991.7,412.1 1993.7,412.1 1995.7,412.1 1997.7,412.1 1999.7,412.1 2001.7,412.1 2003.7,412.1 2005.7,412.1 2007.7,412.1 2009.7,412.1 2011.7,412.1 2013.7,412.0 2015.7,412.0 2017.7,412.0 2019.7,412.0 2021.7,412.0 2023.7,412.0 2025.7,412.0 2027.7,412.0 2029.8,412.0 2031.8,412.0 2033.8,412.0 2035.8,412.0 2037.8,411.9 2039.8,411.9 2041.8,411.9 2043.8,411.9 2045.8,411.9 2047.8,411.9 2049.8,411.9 2051.8,411.9 2053.8,411.9 2055.8,411.9 2057.8,411.9 2059.8,411.9 2061.8,411.9 2063.8,411.9 2065.8,411.9 2067.8,411.9 2069.8,411.9 2071.8,411.8 2073.8,411.8 2075.8,411.8 2077.8,411.8 2079.8,411.8 2081.8,411.8 2083.8,411.8 2085.8,411.8 2087.8,411.8 2089.8,411.8 2091.8,411.8 2093.8,411.8 2095.8,411.8 2097.8,411.8 2099.8,411.8 2101.8,411.8 2103.9,411.8 2105.9,411.8 2107.9,411.8 2109.9,411.8 2111.9,411.8 2113.9,411.7 2115.9,411.7 2117.9,411.7 2119.9,411.7 2121.9,411.7 2123.9,411.7 2125.9,411.7 2127.9,411.7 2129.9,411.7 2131.9,411.7 2133.9,411.7 2135.9,411.7 2137.9,411.7 2139.9,411.7 2141.9,411.7 2143.9,411.7 2145.9,411.7 2147.9,411.7 2149.9,411.7 2151.9,411.7 2153.9,411.6 2155.9,411.6 2157.9,411.6 2159.9,411.6 2161.9,411.6 2163.9,411.6 2165.9,411.6 2167.9,411.6 2169.9,411.6 2171.9,411.6 2173.9,411.6 2175.9,411.6 2178.0,411.6 2180.0,411.6 2182.0,411.6 2184.0,411.6 2186.0,411.6 2188.0,411.6 2190.0,411.6 2192.0,411.6 2194.0,411.6 2196.0,411.5 2198.0,411.5 2200.0,411.5 2202.0,411.5 2204.0,411.5 2206.0,411.5 2208.0,411.5 2210.0,411.5 2212.0,411.5 2214.0,411.5 2215.0,411.5" stroke="#000"/>
</g>
<text x="1601.4" y="895.5" textLength="424.8" lengthAdjust="spacingAndGlyphs" class="b">Wavelength (nm)</text>
<text transform="translate(1273.6,534.5) rotate(-90)" x="0" y="0" textLength="257.0" lengthAdjust="spacingAndGlyphs" class="b">CD (mdeg)</text>
<line x1="1932.0" y1="116.6" x2="2016.4" y2="116.6" stroke="#ff0000" stroke-width="6.2"/>
<text x="2022.4" y="128.6" textLength="162.2" lengthAdjust="spacingAndGlyphs" class="l">3D_Sm-L</text>
<line x1="1932.0" y1="195.7" x2="2016.4" y2="195.7" stroke="#000" stroke-width="6.2"/>
<text x="2022.4" y="207.0" textLength="171.6" lengthAdjust="spacingAndGlyphs" class="l">3D_Sm-D</text>
<line x1="214.2" y1="992.5" x2="230.7" y2="992.5" stroke="#2a2a2a" stroke-width="3.0"/>
<text x="185.5" y="1004.9" text-anchor="end" class="t">60</text>
<line x1="214.2" y1="1074.9" x2="230.7" y2="1074.9" stroke="#2a2a2a" stroke-width="3.0"/>
<text x="185.5" y="1087.3" text-anchor="end" class="t">45</text>
<line x1="214.2" y1="1157.4" x2="230.7" y2="1157.4" stroke="#2a2a2a" stroke-width="3.0"/>
<text x="185.5" y="1169.8" text-anchor="end" class="t">30</text>
<line x1="214.2" y1="1239.8" x2="230.7" y2="1239.8" stroke="#2a2a2a" stroke-width="3.0"/>
<text x="185.5" y="1252.2" text-anchor="end" class="t">15</text>
<line x1="214.2" y1="1322.2" x2="230.7" y2="1322.2" stroke="#2a2a2a" stroke-width="3.0"/>
<text x="185.5" y="1334.7" text-anchor="end" class="t">0</text>
<line x1="214.2" y1="1404.7" x2="230.7" y2="1404.7" stroke="#2a2a2a" stroke-width="3.0"/>
<text x="185.5" y="1417.1" text-anchor="end" class="t">-15</text>
<line x1="214.2" y1="1487.1" x2="230.7" y2="1487.1" stroke="#2a2a2a" stroke-width="3.0"/>
<text x="185.5" y="1499.5" text-anchor="end" class="t">-30</text>
<line x1="214.2" y1="1569.6" x2="230.7" y2="1569.6" stroke="#2a2a2a" stroke-width="3.0"/>
<text x="185.5" y="1582.0" text-anchor="end" class="t">-45</text>
<line x1="214.2" y1="1652.0" x2="230.7" y2="1652.0" stroke="#2a2a2a" stroke-width="3.0"/>
<text x="185.5" y="1664.4" text-anchor="end" class="t">-60</text>
<line x1="230.7" y1="1652.0" x2="230.7" y2="1668.5" stroke="#000" stroke-width="3.0"/>
<text x="232.7" y="1731.8" text-anchor="middle" class="t">190</text>
<line x1="594.0" y1="1652.0" x2="594.0" y2="1668.5" stroke="#000" stroke-width="3.0"/>
<text x="596.0" y="1731.8" text-anchor="middle" class="t">240</text>
<line x1="957.3" y1="1652.0" x2="957.3" y2="1668.5" stroke="#000" stroke-width="3.0"/>
<text x="959.3" y="1731.8" text-anchor="middle" class="t">290</text>
<path d="M230.7,1652.0 V992.5 H1030.0 V1652.0" fill="none" stroke="#000" stroke-width="3.4" stroke-linecap="square"/>
<line x1="229.0" y1="1651.7" x2="1031.7" y2="1651.7" stroke="#000" stroke-width="4.3"/>
<clipPath id="c3"><rect x="230.7" y="992.5" width="799.3" height="659.5"/></clipPath>
<g clip-path="url(#c3)" fill="none" stroke-width="6.2" stroke-linejoin="round" stroke-linecap="round">
<path d="M231.0,1384.0 231.1,1386.0 231.3,1388.0 231.4,1390.0 231.6,1392.0 231.7,1394.0 231.9,1396.0 232.0,1398.0 232.2,1400.0 232.3,1402.0 232.5,1404.0 232.6,1406.0 232.8,1408.0 233.0,1409.9 233.3,1411.9 233.8,1413.8 234.4,1415.7 235.2,1417.6 235.9,1419.4 236.6,1421.3 237.4,1423.1 238.1,1425.0 238.9,1426.9 239.6,1428.7 240.4,1430.6 241.3,1432.4 242.2,1434.1 243.3,1435.8 244.4,1437.5 245.5,1439.1 246.6,1440.8 247.7,1442.5 248.8,1444.1 249.9,1445.8 251.0,1447.5 252.1,1449.1 253.2,1450.8 254.3,1452.5 255.4,1454.2 256.5,1455.9 257.5,1457.6 258.6,1459.3 259.6,1461.0 260.7,1462.6 261.8,1464.1 262.9,1465.0 264.0,1465.0 265.1,1464.1 266.3,1462.6 267.5,1461.0 268.6,1459.4 269.8,1457.7 270.9,1456.1 272.1,1454.5 273.2,1452.8 274.2,1451.1 275.1,1449.3 276.0,1447.5 276.9,1445.7 277.8,1443.9 278.7,1442.1 279.6,1440.3 280.5,1438.6 281.4,1436.8 282.2,1435.0 283.1,1433.1 283.8,1431.3 284.4,1429.4 285.0,1427.5 285.6,1425.6 286.1,1423.6 286.7,1421.7 287.3,1419.8 287.9,1417.9 288.4,1416.0 289.0,1414.0 289.5,1412.1 290.0,1410.2 290.5,1408.2 291.0,1406.3 291.5,1404.4 292.0,1402.4 292.5,1400.5 293.0,1398.5 293.5,1396.6 294.0,1394.7 294.5,1392.7 295.0,1390.8 295.5,1388.8 296.0,1386.9 296.6,1385.0 297.1,1383.1 297.7,1381.1 298.3,1379.2 298.8,1377.3 299.4,1375.4 300.0,1373.5 300.5,1371.5 301.1,1369.6 301.7,1367.7 302.2,1365.8 302.7,1363.8 303.3,1361.9 303.8,1360.0 304.3,1358.1 304.9,1356.1 305.4,1354.2 305.9,1352.3 306.5,1350.3 307.0,1348.4 307.5,1346.5 308.1,1344.6 308.6,1342.6 309.2,1340.7 309.8,1338.8 310.4,1336.9 310.9,1335.0 311.5,1333.0 312.1,1331.1 312.6,1329.2 313.2,1327.3 313.9,1325.4 314.6,1323.5 315.4,1321.7 316.2,1319.9 317.0,1318.0 317.8,1316.2 318.6,1314.3 319.4,1312.5 320.2,1310.7 320.9,1308.8 321.7,1307.0 322.5,1305.1 323.3,1303.3 324.1,1301.5 325.0,1299.7 326.0,1298.0 327.3,1296.6 328.7,1295.3 330.3,1294.1 331.8,1292.8 333.3,1291.5 334.5,1290.0 335.6,1288.3 336.6,1286.6 337.6,1284.9 338.6,1283.1 339.6,1281.4 340.7,1279.7 341.9,1278.2 343.3,1276.9 345.0,1276.0 346.7,1275.1 348.5,1274.2 350.0,1273.0 351.3,1271.6 352.3,1270.0 353.2,1268.2 354.1,1266.4 355.0,1264.6 355.9,1262.8 356.9,1261.1 357.9,1259.4 359.0,1257.7 360.1,1256.0 361.2,1254.4 362.3,1252.7 363.5,1251.0 364.5,1249.4 365.6,1247.7 366.6,1245.9 367.6,1244.2 368.6,1242.5 369.6,1240.7 370.6,1239.0 371.6,1237.3 372.7,1235.6 373.9,1234.2 375.4,1232.9 377.1,1231.8 378.8,1230.8 380.5,1229.9 382.4,1229.2 384.3,1228.8 386.2,1228.6 388.2,1228.5 390.2,1228.4 392.2,1228.3 394.2,1228.2 396.2,1228.0 398.2,1227.8 400.1,1227.4 401.9,1226.7 403.7,1225.8 405.4,1224.8 407.1,1223.8 408.9,1222.8 410.7,1222.0 412.6,1221.5 414.5,1221.1 416.4,1221.1 418.3,1221.4 420.2,1221.9 422.1,1222.6 423.9,1223.4 425.8,1224.2 427.6,1225.0 429.4,1225.9 431.1,1226.9 432.8,1227.9 434.6,1228.9 436.3,1229.9 438.0,1230.9 439.8,1231.9 441.5,1232.8 443.3,1233.8 445.1,1234.7 446.9,1235.6 448.7,1236.5 450.4,1237.4 452.1,1238.4 453.8,1239.6 455.3,1240.8 456.9,1242.1 458.4,1243.4 460.0,1244.7 461.5,1245.9 463.0,1247.2 464.6,1248.5 466.1,1249.7 467.7,1251.0 469.3,1252.2 471.0,1253.3 472.7,1254.4 474.4,1255.4 476.1,1256.4 477.8,1257.5 479.5,1258.5 481.2,1259.5 482.9,1260.6 484.6,1261.7 486.2,1262.9 487.8,1264.1 489.3,1265.4 490.9,1266.6 492.5,1267.9 494.0,1269.1 495.6,1270.4 497.2,1271.6 498.8,1272.8 500.5,1273.9 502.2,1274.9 503.9,1276.0 505.6,1277.0 507.3,1278.0 509.0,1279.1 510.7,1280.1 512.5,1281.0 514.3,1281.9 516.1,1282.8 517.9,1283.5 519.8,1284.3 521.7,1284.8 523.6,1285.1 525.5,1285.0 527.4,1284.7 529.4,1284.3 531.4,1284.0 533.4,1283.7 535.3,1283.5 537.3,1283.4 539.3,1283.4 541.3,1283.4 543.3,1283.4 545.3,1283.4 547.3,1283.4 549.3,1283.4 551.3,1283.4 553.3,1283.4 555.3,1283.5 557.3,1283.6 559.3,1283.8 561.3,1284.0 563.3,1284.3 565.3,1284.6 567.1,1285.0 568.8,1285.9 570.2,1287.1 571.6,1288.5 573.0,1289.8 574.6,1290.9 576.4,1291.5 578.3,1292.0 580.3,1292.3 582.2,1292.7 584.2,1293.0 586.2,1293.3 588.2,1293.6 590.2,1293.9 592.1,1294.0 594.1,1294.1 596.1,1294.1 598.1,1294.1 600.2,1294.1 602.2,1294.1 604.2,1294.1 606.2,1294.1 608.2,1294.1 610.2,1294.1 612.2,1294.1 614.2,1294.1 616.2,1294.1 618.2,1294.1 620.2,1294.1 622.2,1294.1 624.2,1294.1 626.2,1294.1 628.2,1294.0 630.2,1293.9 632.2,1293.7 634.2,1293.6 636.2,1293.5 638.2,1293.3 640.2,1293.2 642.2,1293.1 644.2,1293.0 646.1,1293.0 648.0,1293.3 649.8,1293.9 651.6,1294.8 653.3,1295.7 655.1,1296.4 657.0,1296.8 659.0,1297.0 661.0,1297.0 663.0,1297.0 665.0,1297.0 667.0,1297.0 669.0,1297.0 671.0,1297.0 673.0,1297.0 675.0,1297.0 677.0,1297.0 679.0,1297.0 681.0,1297.0 683.0,1297.0 685.0,1297.0 687.0,1297.0 689.0,1297.0 691.0,1297.0 693.0,1297.0 695.0,1297.0 697.0,1297.0 699.0,1297.0 701.0,1297.0 703.0,1297.0 705.0,1297.0 707.0,1297.0 709.0,1297.0 711.0,1297.2 712.9,1297.5 714.8,1298.1 716.7,1298.7 718.6,1299.3 720.5,1299.7 722.5,1299.9 724.5,1299.9 726.5,1300.0 728.5,1300.1 730.5,1300.1 732.5,1300.2 734.5,1300.2 736.5,1300.3 738.5,1300.4 740.5,1300.4 742.5,1300.5 744.5,1300.5 746.5,1300.6 748.5,1300.7 750.5,1300.7 752.5,1300.8 754.5,1300.8 756.5,1300.9 758.5,1300.9 760.5,1301.0 762.5,1301.0 764.5,1301.1 766.5,1301.1 768.5,1301.1 770.5,1301.1 772.5,1301.2 774.5,1301.2 776.5,1301.2 778.5,1301.2 780.5,1301.3 782.5,1301.3 784.5,1301.3 786.6,1301.3 788.6,1301.4 790.6,1301.4 792.6,1301.4 794.6,1301.4 796.6,1301.5 798.6,1301.5 800.6,1301.5 802.6,1301.5 804.6,1301.6 806.6,1301.6 808.6,1301.6 810.6,1301.6 812.6,1301.7 814.6,1301.7 816.6,1301.7 818.6,1301.7 820.6,1301.8 822.6,1301.8 824.6,1301.8 826.6,1301.8 828.6,1301.9 830.6,1301.9 832.6,1301.9 834.6,1301.9 836.6,1302.0 838.6,1302.0 840.6,1302.0 842.6,1302.0 844.6,1302.0 846.6,1301.9 848.6,1301.9 850.6,1301.9 852.6,1301.9 854.6,1301.9 856.6,1301.9 858.6,1301.8 860.6,1301.8 862.6,1301.8 864.6,1301.8 866.6,1301.8 868.6,1301.8 870.6,1301.7 872.6,1301.7 874.6,1301.7 876.6,1301.7 878.6,1301.7 880.6,1301.7 882.6,1301.6 884.6,1301.6 886.7,1301.6 888.7,1301.6 890.7,1301.6 892.7,1301.6 894.7,1301.5 896.7,1301.5 898.7,1301.4 900.6,1301.2 902.6,1300.9 904.5,1300.4 906.5,1300.0 908.5,1299.6 910.4,1299.1 912.4,1298.8 914.4,1298.6 916.3,1298.5 918.3,1298.5 920.3,1298.5 922.3,1298.5 924.3,1298.5 926.4,1298.5 928.4,1298.5 930.4,1298.5 932.4,1298.5 934.4,1298.5 936.4,1298.5 938.4,1298.5 940.4,1298.5 942.4,1298.5 944.4,1298.5 946.4,1298.5 948.4,1298.5 950.4,1298.6 952.4,1298.7 954.4,1298.9 956.3,1299.2 958.3,1299.5 960.3,1299.8 962.3,1300.1 964.3,1300.3 966.2,1300.4 968.2,1300.5 970.2,1300.6 972.2,1300.6 974.2,1300.6 976.3,1300.7 978.3,1300.7 980.3,1300.7 982.3,1300.7 984.3,1300.8 986.3,1300.8 988.3,1300.8 990.3,1300.9 992.3,1300.9 994.3,1300.9 996.3,1301.0 998.3,1301.1 1000.2,1301.3 1002.2,1301.6 1004.1,1302.0 1006.1,1302.5 1008.0,1302.9 1010.0,1303.3 1012.0,1303.4 1014.0,1303.5 1016.0,1303.5 1018.0,1303.5 1020.0,1303.5 1022.0,1303.5 1024.0,1303.5 1026.0,1303.5 1028.0,1303.5 1030.0,1303.5 1032.0,1303.5 1032.0,1303.5" stroke="#ff0000"/>
<path d="M231.0,1160.3 232.1,1158.6 233.2,1157.0 234.3,1155.3 235.5,1153.6 236.6,1152.0 237.7,1150.4 239.0,1148.9 240.5,1147.6 242.2,1146.5 243.9,1145.6 245.6,1144.7 247.3,1144.2 249.0,1144.3 250.6,1145.1 252.2,1146.2 253.8,1147.4 255.3,1148.7 256.8,1150.0 258.2,1151.4 259.6,1152.9 260.9,1154.4 262.2,1155.9 263.5,1157.4 264.8,1158.9 266.1,1160.5 267.4,1162.0 268.6,1163.6 269.8,1165.2 270.8,1166.9 271.8,1168.6 272.8,1170.4 273.8,1172.1 274.7,1173.9 275.7,1175.6 276.7,1177.4 277.7,1179.1 278.6,1180.9 279.5,1182.7 280.2,1184.5 281.0,1186.4 281.7,1188.3 282.4,1190.2 283.1,1192.0 283.8,1193.9 284.5,1195.8 285.1,1197.7 285.8,1199.6 286.5,1201.5 287.1,1203.3 287.7,1205.2 288.4,1207.1 289.0,1209.0 289.7,1210.9 290.3,1212.8 290.9,1214.7 291.6,1216.6 292.3,1218.5 293.0,1220.4 293.7,1222.3 294.4,1224.1 295.1,1226.0 295.7,1227.9 296.4,1229.8 297.1,1231.7 297.8,1233.6 298.4,1235.5 299.0,1237.4 299.5,1239.3 300.1,1241.2 300.7,1243.1 301.3,1245.0 301.9,1247.0 302.5,1248.9 303.1,1250.8 303.7,1252.7 304.5,1254.5 305.4,1256.3 306.2,1258.1 307.1,1259.9 308.0,1261.7 308.9,1263.5 309.8,1265.3 310.7,1267.1 311.6,1268.9 312.5,1270.6 313.5,1272.4 314.5,1274.1 315.5,1275.8 316.5,1277.6 317.5,1279.3 318.5,1281.1 319.5,1282.8 320.5,1284.5 321.5,1286.3 322.5,1288.0 323.5,1289.7 324.5,1291.5 325.5,1293.2 326.5,1294.9 327.5,1296.7 328.4,1298.5 329.3,1300.2 330.2,1302.0 331.1,1303.8 332.0,1305.6 332.9,1307.4 333.8,1309.2 334.7,1311.0 335.6,1312.8 336.5,1314.6 337.5,1316.3 338.5,1318.1 339.4,1319.8 340.4,1321.5 341.4,1323.3 342.4,1325.0 343.4,1326.8 344.4,1328.5 345.6,1330.1 346.9,1331.6 348.3,1333.0 349.6,1334.5 351.0,1335.9 352.4,1337.3 353.9,1338.7 355.4,1340.1 357.0,1341.3 358.6,1342.5 360.2,1343.6 361.8,1344.8 363.5,1346.0 365.1,1347.1 366.7,1348.3 368.3,1349.5 369.9,1350.7 371.5,1351.9 373.0,1353.2 374.5,1354.5 376.1,1355.8 377.6,1357.1 379.2,1358.3 380.7,1359.6 382.4,1360.7 384.1,1361.7 385.9,1362.6 387.7,1363.5 389.5,1364.4 391.3,1365.3 393.0,1366.2 394.9,1367.0 396.7,1367.6 398.7,1368.0 400.7,1368.2 402.6,1368.4 404.6,1368.6 406.6,1368.8 408.6,1369.0 410.6,1369.2 412.6,1369.4 414.6,1369.5 416.6,1369.6 418.6,1369.6 420.6,1369.5 422.6,1369.3 424.6,1369.2 426.6,1369.0 428.6,1368.9 430.6,1368.7 432.6,1368.5 434.6,1368.4 436.6,1368.2 438.5,1368.0 440.5,1367.7 442.4,1367.2 444.3,1366.5 446.1,1365.7 447.8,1364.8 449.6,1363.9 451.4,1363.0 453.2,1362.1 455.0,1361.2 456.8,1360.3 458.6,1359.5 460.5,1358.7 462.3,1358.0 464.2,1357.3 466.1,1356.5 467.9,1355.8 469.8,1355.0 471.6,1354.2 473.4,1353.4 475.2,1352.5 477.0,1351.6 478.8,1350.8 480.6,1349.9 482.5,1349.1 484.3,1348.4 486.2,1347.9 488.2,1347.4 490.1,1347.0 492.1,1346.6 494.1,1346.3 496.0,1345.9 498.0,1345.4 499.9,1344.9 501.9,1344.4 503.8,1343.8 505.7,1343.2 507.6,1342.6 509.5,1342.1 511.4,1341.4 513.3,1340.8 515.2,1340.1 517.1,1339.4 518.9,1338.6 520.8,1337.9 522.6,1337.1 524.5,1336.4 526.4,1335.7 528.3,1335.1 530.2,1334.4 532.1,1333.9 534.0,1333.3 535.9,1332.7 537.8,1332.1 539.8,1331.6 541.7,1331.2 543.7,1330.8 545.7,1330.5 547.6,1330.3 549.6,1330.0 551.6,1329.7 553.6,1329.5 555.6,1329.2 557.6,1329.0 559.6,1328.7 561.6,1328.5 563.5,1328.3 565.5,1328.2 567.5,1328.1 569.5,1328.0 571.5,1327.9 573.5,1327.9 575.5,1327.8 577.5,1327.7 579.5,1327.6 581.5,1327.6 583.5,1327.5 585.6,1327.4 587.6,1327.3 589.6,1327.2 591.6,1327.2 593.6,1327.1 595.6,1327.0 597.6,1327.0 599.6,1327.0 601.6,1327.1 603.6,1327.2 605.6,1327.3 607.6,1327.5 609.6,1327.6 611.6,1327.7 613.6,1327.8 615.5,1327.9 617.5,1328.0 619.5,1328.2 621.5,1328.3 623.5,1328.4 625.5,1328.5 627.5,1328.6 629.5,1328.7 631.5,1328.8 633.5,1328.9 635.5,1328.9 637.5,1328.9 639.5,1328.9 641.5,1328.8 643.6,1328.8 645.6,1328.8 647.6,1328.7 649.6,1328.7 651.6,1328.7 653.6,1328.6 655.6,1328.6 657.6,1328.5 659.6,1328.5 661.6,1328.5 663.6,1328.4 665.6,1328.4 667.6,1328.3 669.6,1328.3 671.6,1328.3 673.6,1328.4 675.6,1328.4 677.6,1328.4 679.6,1328.5 681.6,1328.5 683.6,1328.5 685.6,1328.6 687.6,1328.6 689.6,1328.6 691.6,1328.7 693.6,1328.7 695.6,1328.7 697.6,1328.8 699.6,1328.8 701.6,1328.8 703.6,1328.9 705.6,1328.9 707.6,1328.9 709.6,1328.9 711.6,1329.0 713.6,1328.9 715.6,1328.9 717.6,1328.9 719.6,1328.8 721.6,1328.8 723.6,1328.7 725.6,1328.7 727.6,1328.6 729.6,1328.6 731.6,1328.5 733.7,1328.5 735.7,1328.4 737.7,1328.4 739.7,1328.3 741.7,1328.2 743.7,1328.2 745.7,1328.1 747.7,1328.0 749.7,1327.9 751.7,1327.8 753.7,1327.7 755.7,1327.6 757.7,1327.5 759.7,1327.4 761.7,1327.3 763.7,1327.2 765.7,1327.1 767.7,1327.0 769.7,1327.0 771.7,1326.9 773.7,1326.9 775.7,1326.9 777.7,1326.9 779.7,1326.9 781.7,1326.8 783.7,1326.8 785.7,1326.8 787.7,1326.8 789.7,1326.8 791.7,1326.8 793.7,1326.8 795.7,1326.8 797.7,1326.8 799.7,1326.8 801.7,1326.7 803.7,1326.7 805.7,1326.7 807.7,1326.7 809.7,1326.7 811.7,1326.7 813.7,1326.7 815.7,1326.7 817.7,1326.7 819.7,1326.7 821.7,1326.6 823.7,1326.6 825.7,1326.6 827.7,1326.6 829.7,1326.6 831.7,1326.6 833.7,1326.6 835.7,1326.6 837.8,1326.6 839.8,1326.6 841.8,1326.5 843.8,1326.5 845.8,1326.5 847.8,1326.5 849.8,1326.5 851.8,1326.5 853.8,1326.5 855.8,1326.5 857.8,1326.5 859.8,1326.5 861.8,1326.5 863.8,1326.5 865.8,1326.5 867.8,1326.5 869.8,1326.5 871.8,1326.5 873.8,1326.5 875.8,1326.5 877.8,1326.5 879.8,1326.5 881.8,1326.5 883.8,1326.5 885.8,1326.5 887.8,1326.5 889.8,1326.5 891.8,1326.5 893.8,1326.5 895.8,1326.5 897.8,1326.5 899.8,1326.5 901.8,1326.5 903.8,1326.5 905.8,1326.5 907.8,1326.5 909.8,1326.5 911.8,1326.5 913.8,1326.5 915.9,1326.5 917.9,1326.5 919.9,1326.5 921.9,1326.5 923.9,1326.5 925.9,1326.5 927.9,1326.5 929.9,1326.5 931.9,1326.5 933.9,1326.5 935.9,1326.5 937.9,1326.5 939.9,1326.5 941.9,1326.5 943.9,1326.5 945.9,1326.5 947.9,1326.5 949.9,1326.5 951.9,1326.5 953.9,1326.5 955.9,1326.5 957.9,1326.5 959.9,1326.4 961.9,1326.4 963.9,1326.4 965.9,1326.4 967.9,1326.4 969.9,1326.4 971.9,1326.4 973.9,1326.4 975.9,1326.3 977.9,1326.3 979.9,1326.3 981.9,1326.3 983.9,1326.3 985.9,1326.3 987.9,1326.3 989.9,1326.3 991.9,1326.2 994.0,1326.2 996.0,1326.2 998.0,1326.2 1000.0,1326.2 1002.0,1326.2 1004.0,1326.2 1006.0,1326.2 1008.0,1326.1 1010.0,1326.1 1012.0,1326.1 1014.0,1326.1 1016.0,1326.1 1018.0,1326.1 1020.0,1326.1 1022.0,1326.1 1024.0,1326.0 1026.0,1326.0 1028.0,1326.0 1030.0,1326.0 1032.0,1326.0 1032.0,1326.0" stroke="#000"/>
</g>
<text x="418.6" y="1816.3" textLength="424.8" lengthAdjust="spacingAndGlyphs" class="b">Wavelength (nm)</text>
<text transform="translate(90.8,1454.8) rotate(-90)" x="0" y="0" textLength="256.7" lengthAdjust="spacingAndGlyphs" class="b">CD (mdeg)</text>
<line x1="752.0" y1="1037.7" x2="839.7" y2="1037.7" stroke="#ff0000" stroke-width="6.2"/>
<text x="844.8" y="1049.5" textLength="150.2" lengthAdjust="spacingAndGlyphs" class="l">3D_Eu-L</text>
<line x1="752.0" y1="1115.7" x2="839.7" y2="1115.7" stroke="#000" stroke-width="6.2"/>
<text x="844.8" y="1127.7" textLength="159.4" lengthAdjust="spacingAndGlyphs" class="l">3D_Eu-D</text>
<line x1="1400.5" y1="989.5" x2="1417.0" y2="989.5" stroke="#2a2a2a" stroke-width="3.0"/>
<text x="1371.8" y="1001.9" text-anchor="end" class="t">60</text>
<line x1="1400.5" y1="1072.0" x2="1417.0" y2="1072.0" stroke="#2a2a2a" stroke-width="3.0"/>
<text x="1371.8" y="1084.4" text-anchor="end" class="t">45</text>
<line x1="1400.5" y1="1154.5" x2="1417.0" y2="1154.5" stroke="#2a2a2a" stroke-width="3.0"/>
<text x="1371.8" y="1166.9" text-anchor="end" class="t">30</text>
<line x1="1400.5" y1="1237.0" x2="1417.0" y2="1237.0" stroke="#2a2a2a" stroke-width="3.0"/>
<text x="1371.8" y="1249.4" text-anchor="end" class="t">15</text>
<line x1="1400.5" y1="1319.5" x2="1417.0" y2="1319.5" stroke="#2a2a2a" stroke-width="3.0"/>
<text x="1371.8" y="1331.9" text-anchor="end" class="t">0</text>
<line x1="1400.5" y1="1402.0" x2="1417.0" y2="1402.0" stroke="#2a2a2a" stroke-width="3.0"/>
<text x="1371.8" y="1414.4" text-anchor="end" class="t">-15</text>
<line x1="1400.5" y1="1484.5" x2="1417.0" y2="1484.5" stroke="#2a2a2a" stroke-width="3.0"/>
<text x="1371.8" y="1496.9" text-anchor="end" class="t">-30</text>
<line x1="1400.5" y1="1567.0" x2="1417.0" y2="1567.0" stroke="#2a2a2a" stroke-width="3.0"/>
<text x="1371.8" y="1579.4" text-anchor="end" class="t">-45</text>
<line x1="1400.5" y1="1649.5" x2="1417.0" y2="1649.5" stroke="#2a2a2a" stroke-width="3.0"/>
<text x="1371.8" y="1661.9" text-anchor="end" class="t">-60</text>
<line x1="1417.0" y1="1649.5" x2="1417.0" y2="1666.0" stroke="#000" stroke-width="3.0"/>
<text x="1416.3" y="1728.4" text-anchor="middle" class="t">190</text>
<line x1="1780.4" y1="1649.5" x2="1780.4" y2="1666.0" stroke="#000" stroke-width="3.0"/>
<text x="1779.7" y="1728.4" text-anchor="middle" class="t">240</text>
<line x1="2143.7" y1="1649.5" x2="2143.7" y2="1666.0" stroke="#000" stroke-width="3.0"/>
<text x="2143.0" y="1728.4" text-anchor="middle" class="t">290</text>
<path d="M1417.0,1649.5 V989.5 H2216.4 V1649.5" fill="none" stroke="#000" stroke-width="3.4" stroke-linecap="square"/>
<line x1="1415.3" y1="1649.2" x2="2218.1" y2="1649.2" stroke="#000" stroke-width="4.3"/>
<clipPath id="c4"><rect x="1417.0" y="989.5" width="799.4" height="660.0"/></clipPath>
<g clip-path="url(#c4)" fill="none" stroke-width="6.2" stroke-linejoin="round" stroke-linecap="round">
<path d="M1417.4,1611.7 1418.0,1613.6 1418.7,1615.5 1419.3,1617.4 1420.0,1619.3 1420.8,1621.1 1421.8,1622.8 1422.9,1624.5 1424.0,1626.1 1425.2,1627.7 1426.4,1628.8 1428.0,1629.3 1429.7,1629.2 1431.5,1628.7 1433.4,1628.0 1435.1,1627.1 1436.6,1626.0 1437.9,1624.5 1439.1,1623.0 1440.3,1621.3 1441.4,1619.7 1442.5,1618.0 1443.5,1616.3 1444.3,1614.5 1445.0,1612.6 1445.6,1610.7 1446.2,1608.8 1446.8,1606.9 1447.4,1605.0 1448.0,1603.1 1448.5,1601.2 1449.2,1599.3 1449.8,1597.4 1450.6,1595.5 1451.5,1593.7 1452.4,1592.0 1453.4,1590.2 1454.3,1588.5 1455.3,1586.7 1456.3,1585.0 1457.1,1583.2 1457.9,1581.4 1458.5,1579.5 1459.0,1577.5 1459.5,1575.6 1460.0,1573.6 1460.5,1571.7 1461.0,1569.8 1461.4,1567.8 1461.9,1565.9 1462.4,1563.9 1462.8,1562.0 1463.3,1560.0 1463.8,1558.1 1464.2,1556.1 1464.7,1554.2 1465.1,1552.2 1465.6,1550.3 1466.0,1548.3 1466.5,1546.4 1466.9,1544.4 1467.4,1542.5 1467.9,1540.5 1468.5,1538.6 1469.0,1536.7 1469.5,1534.8 1470.1,1532.8 1470.6,1530.9 1471.1,1529.0 1471.7,1527.0 1472.3,1525.2 1473.0,1523.3 1473.8,1521.4 1474.5,1519.6 1475.3,1517.7 1476.0,1515.8 1476.7,1514.0 1477.5,1512.1 1478.2,1510.2 1478.8,1508.3 1479.5,1506.5 1480.1,1504.6 1480.7,1502.7 1481.4,1500.8 1482.0,1498.8 1482.6,1496.9 1483.3,1495.0 1483.9,1493.2 1484.6,1491.3 1485.3,1489.4 1486.0,1487.5 1486.7,1485.6 1487.4,1483.8 1488.1,1481.9 1488.9,1480.1 1489.7,1478.2 1490.6,1476.4 1491.4,1474.6 1492.3,1472.8 1493.2,1471.0 1494.1,1469.3 1495.0,1467.5 1495.9,1465.7 1496.8,1463.9 1497.7,1462.1 1498.6,1460.3 1499.5,1458.5 1500.4,1456.7 1501.3,1454.9 1502.1,1453.1 1503.0,1451.3 1503.9,1449.5 1504.8,1447.7 1505.7,1446.0 1506.6,1444.2 1507.6,1442.4 1508.5,1440.6 1509.5,1438.9 1510.5,1437.1 1511.5,1435.4 1512.5,1433.7 1513.5,1432.0 1514.7,1430.3 1515.9,1428.7 1517.1,1427.2 1518.3,1425.6 1519.6,1424.0 1520.8,1422.5 1522.1,1420.9 1523.3,1419.3 1524.5,1417.7 1525.6,1416.0 1526.8,1414.4 1528.0,1412.8 1529.2,1411.2 1530.4,1409.6 1531.6,1408.0 1532.9,1406.5 1534.1,1404.9 1535.4,1403.4 1536.7,1401.8 1538.0,1400.3 1539.3,1398.8 1540.6,1397.2 1541.8,1395.7 1543.1,1394.2 1544.4,1392.6 1545.6,1391.0 1546.8,1389.4 1548.0,1387.8 1549.2,1386.2 1550.3,1384.6 1551.5,1382.9 1552.7,1381.3 1554.0,1379.8 1555.4,1378.4 1556.8,1377.0 1558.2,1375.6 1559.7,1374.2 1561.1,1372.8 1562.6,1371.4 1564.0,1370.1 1565.5,1368.7 1567.0,1367.4 1568.5,1366.1 1570.1,1364.8 1571.6,1363.5 1573.2,1362.3 1574.7,1361.0 1576.3,1359.7 1577.8,1358.4 1579.3,1357.1 1580.8,1355.7 1582.3,1354.4 1583.8,1353.2 1585.4,1352.0 1587.1,1350.8 1588.7,1349.7 1590.4,1348.5 1592.0,1347.4 1593.7,1346.4 1595.4,1345.3 1597.2,1344.3 1598.9,1343.4 1600.8,1342.6 1602.6,1341.8 1604.5,1341.1 1606.3,1340.3 1608.2,1339.6 1610.1,1338.9 1611.9,1338.2 1613.8,1337.6 1615.7,1337.0 1617.6,1336.3 1619.5,1335.7 1621.5,1335.2 1623.4,1334.7 1625.4,1334.2 1627.3,1333.8 1629.3,1333.4 1631.2,1333.0 1633.2,1332.7 1635.2,1332.3 1637.2,1332.1 1639.1,1332.0 1641.1,1332.1 1643.1,1332.1 1645.1,1332.2 1647.1,1332.3 1649.1,1332.3 1651.1,1332.4 1653.1,1332.5 1655.1,1332.5 1657.2,1332.6 1659.1,1332.7 1661.1,1332.9 1663.1,1333.1 1665.1,1333.3 1667.1,1333.6 1669.1,1334.0 1671.0,1334.5 1672.9,1335.0 1674.9,1335.4 1676.8,1335.9 1678.8,1336.4 1680.7,1336.8 1682.7,1337.1 1684.7,1337.3 1686.7,1337.6 1688.7,1337.8 1690.7,1338.0 1692.7,1338.2 1694.7,1338.4 1696.6,1338.6 1698.6,1338.8 1700.6,1339.0 1702.6,1339.2 1704.6,1339.4 1706.6,1339.6 1708.6,1339.8 1710.6,1340.0 1712.6,1340.2 1714.6,1340.4 1716.6,1340.6 1718.6,1340.8 1720.6,1341.0 1722.6,1341.1 1724.5,1341.3 1726.5,1341.3 1728.5,1341.4 1730.6,1341.5 1732.6,1341.5 1734.6,1341.6 1736.6,1341.6 1738.6,1341.7 1740.6,1341.7 1742.6,1341.8 1744.6,1341.8 1746.6,1341.9 1748.6,1341.9 1750.6,1341.9 1752.6,1342.0 1754.6,1342.0 1756.6,1341.9 1758.6,1341.9 1760.6,1341.9 1762.6,1341.8 1764.6,1341.8 1766.6,1341.8 1768.6,1341.7 1770.6,1341.7 1772.6,1341.7 1774.6,1341.6 1776.6,1341.6 1778.6,1341.6 1780.6,1341.5 1782.6,1341.5 1784.6,1341.5 1786.6,1341.4 1788.6,1341.4 1790.6,1341.4 1792.6,1341.3 1794.6,1341.3 1796.6,1341.2 1798.6,1341.1 1800.6,1341.0 1802.6,1340.9 1804.6,1340.8 1806.6,1340.7 1808.6,1340.6 1810.6,1340.5 1812.6,1340.4 1814.6,1340.3 1816.6,1340.2 1818.6,1340.1 1820.6,1340.0 1822.6,1340.0 1824.6,1339.9 1826.6,1339.8 1828.6,1339.7 1830.6,1339.6 1832.6,1339.5 1834.6,1339.4 1836.6,1339.3 1838.6,1339.2 1840.6,1339.1 1842.6,1339.0 1844.6,1338.9 1846.6,1338.9 1848.6,1338.8 1850.6,1338.7 1852.6,1338.6 1854.6,1338.6 1856.6,1338.5 1858.6,1338.4 1860.6,1338.3 1862.6,1338.3 1864.6,1338.2 1866.6,1338.1 1868.6,1338.0 1870.6,1338.0 1872.6,1337.9 1874.6,1337.8 1876.6,1337.7 1878.6,1337.7 1880.6,1337.6 1882.6,1337.5 1884.6,1337.4 1886.6,1337.4 1888.6,1337.3 1890.6,1337.2 1892.6,1337.1 1894.6,1337.1 1896.6,1337.0 1898.6,1336.9 1900.6,1336.9 1902.6,1336.8 1904.7,1336.7 1906.7,1336.6 1908.7,1336.6 1910.7,1336.5 1912.7,1336.5 1914.7,1336.4 1916.7,1336.4 1918.7,1336.4 1920.7,1336.4 1922.7,1336.4 1924.7,1336.3 1926.7,1336.3 1928.7,1336.3 1930.7,1336.3 1932.7,1336.2 1934.7,1336.2 1936.7,1336.2 1938.7,1336.2 1940.7,1336.2 1942.7,1336.1 1944.7,1336.1 1946.7,1336.1 1948.7,1336.1 1950.7,1336.0 1952.7,1336.0 1954.7,1336.0 1956.7,1336.0 1958.7,1336.0 1960.7,1335.9 1962.7,1335.9 1964.7,1335.9 1966.7,1335.9 1968.7,1335.8 1970.7,1335.8 1972.7,1335.8 1974.7,1335.8 1976.7,1335.8 1978.7,1335.7 1980.7,1335.7 1982.7,1335.7 1984.7,1335.7 1986.7,1335.6 1988.7,1335.6 1990.7,1335.6 1992.7,1335.6 1994.8,1335.6 1996.8,1335.5 1998.8,1335.5 2000.8,1335.5 2002.8,1335.5 2004.8,1335.4 2006.8,1335.4 2008.8,1335.4 2010.8,1335.3 2012.8,1335.3 2014.8,1335.3 2016.8,1335.2 2018.8,1335.2 2020.8,1335.2 2022.8,1335.2 2024.8,1335.1 2026.8,1335.1 2028.8,1335.1 2030.8,1335.0 2032.8,1335.0 2034.8,1335.0 2036.8,1334.9 2038.8,1334.9 2040.8,1334.9 2042.8,1334.9 2044.8,1334.8 2046.8,1334.8 2048.8,1334.8 2050.8,1334.7 2052.8,1334.7 2054.8,1334.7 2056.8,1334.6 2058.8,1334.6 2060.8,1334.6 2062.8,1334.6 2064.8,1334.5 2066.8,1334.5 2068.8,1334.5 2070.8,1334.4 2072.8,1334.4 2074.8,1334.4 2076.8,1334.3 2078.8,1334.3 2080.8,1334.3 2082.8,1334.3 2084.9,1334.2 2086.9,1334.2 2088.9,1334.2 2090.9,1334.1 2092.9,1334.1 2094.9,1334.1 2096.9,1334.0 2098.9,1334.0 2100.9,1334.0 2102.9,1334.0 2104.9,1333.9 2106.9,1333.9 2108.9,1333.9 2110.9,1333.9 2112.9,1333.8 2114.9,1333.8 2116.9,1333.8 2118.9,1333.8 2120.9,1333.7 2122.9,1333.7 2124.9,1333.7 2126.9,1333.7 2128.9,1333.6 2130.9,1333.6 2132.9,1333.6 2134.9,1333.6 2136.9,1333.5 2138.9,1333.5 2140.9,1333.5 2142.9,1333.5 2144.9,1333.4 2146.9,1333.4 2148.9,1333.4 2150.9,1333.4 2152.9,1333.3 2154.9,1333.3 2156.9,1333.3 2158.9,1333.3 2160.9,1333.2 2162.9,1333.2 2164.9,1333.2 2166.9,1333.1 2168.9,1333.1 2170.9,1333.1 2172.9,1333.1 2175.0,1333.0 2177.0,1333.0 2179.0,1333.0 2181.0,1333.0 2183.0,1332.9 2185.0,1332.9 2187.0,1332.9 2189.0,1332.9 2191.0,1332.8 2193.0,1332.8 2195.0,1332.8 2197.0,1332.8 2199.0,1332.7 2201.0,1332.7 2203.0,1332.7 2205.0,1332.7 2207.0,1332.6 2209.0,1332.6 2211.0,1332.6 2213.0,1332.6 2215.0,1332.5 2217.0,1332.5 2218.0,1332.5" stroke="#ff0000"/>
<path d="M1418.1,1126.3 1418.7,1124.4 1419.4,1122.5 1420.0,1120.6 1420.6,1118.7 1421.3,1116.8 1422.1,1115.0 1423.1,1113.4 1424.3,1111.8 1425.6,1110.3 1427.0,1108.8 1428.3,1107.4 1429.7,1106.1 1431.1,1105.4 1432.7,1105.5 1434.3,1106.3 1435.9,1107.3 1437.6,1108.4 1439.1,1109.7 1440.5,1111.1 1441.6,1112.7 1442.6,1114.4 1443.6,1116.1 1444.6,1117.8 1445.6,1119.6 1446.6,1121.3 1447.5,1123.1 1448.4,1124.9 1449.2,1126.7 1449.9,1128.6 1450.6,1130.5 1451.3,1132.3 1452.1,1134.2 1452.8,1136.1 1453.5,1138.0 1454.2,1139.8 1454.9,1141.7 1455.6,1143.6 1456.3,1145.5 1457.0,1147.3 1457.7,1149.2 1458.4,1151.1 1459.1,1153.0 1459.7,1154.9 1460.4,1156.8 1461.0,1158.7 1461.6,1160.6 1462.2,1162.5 1462.8,1164.4 1463.4,1166.3 1463.9,1168.2 1464.5,1170.2 1465.1,1172.1 1465.7,1174.0 1466.2,1175.9 1466.8,1177.8 1467.3,1179.8 1467.9,1181.7 1468.4,1183.6 1468.9,1185.6 1469.4,1187.5 1469.9,1189.4 1470.5,1191.4 1471.0,1193.3 1471.5,1195.2 1472.0,1197.2 1472.6,1199.1 1473.1,1201.0 1473.6,1203.0 1474.2,1204.9 1474.7,1206.8 1475.2,1208.8 1475.7,1210.7 1476.3,1212.6 1476.8,1214.6 1477.3,1216.5 1477.9,1218.4 1478.4,1220.4 1478.9,1222.3 1479.4,1224.2 1480.0,1226.2 1480.5,1228.1 1481.0,1230.0 1481.5,1232.0 1482.1,1233.9 1482.6,1235.8 1483.1,1237.8 1483.6,1239.7 1484.2,1241.6 1484.7,1243.6 1485.3,1245.5 1485.8,1247.4 1486.4,1249.3 1487.0,1251.2 1487.6,1253.2 1488.2,1255.1 1488.7,1257.0 1489.3,1258.9 1489.9,1260.8 1490.5,1262.7 1491.1,1264.6 1491.8,1266.5 1492.5,1268.4 1493.2,1270.3 1493.8,1272.2 1494.5,1274.1 1495.2,1275.9 1495.9,1277.8 1496.6,1279.7 1497.2,1281.6 1497.9,1283.5 1498.6,1285.4 1499.3,1287.2 1500.0,1289.1 1500.7,1291.0 1501.4,1292.9 1502.1,1294.7 1502.8,1296.6 1503.5,1298.5 1504.3,1300.3 1505.1,1302.1 1506.1,1303.9 1507.1,1305.6 1508.1,1307.4 1509.1,1309.1 1510.2,1310.8 1511.2,1312.5 1512.3,1314.2 1513.4,1315.9 1514.5,1317.5 1515.6,1319.2 1516.7,1320.9 1517.8,1322.5 1518.9,1324.2 1520.0,1325.9 1521.2,1327.5 1522.3,1329.2 1523.4,1330.9 1524.5,1332.5 1525.6,1334.2 1526.8,1335.8 1528.0,1337.4 1529.2,1339.0 1530.4,1340.6 1531.6,1342.2 1532.8,1343.8 1534.1,1345.3 1535.4,1346.9 1536.7,1348.4 1538.1,1349.8 1539.5,1351.3 1540.8,1352.8 1542.2,1354.2 1543.6,1355.6 1545.1,1357.0 1546.6,1358.4 1548.0,1359.7 1549.5,1361.1 1551.0,1362.4 1552.6,1363.7 1554.1,1364.9 1555.7,1366.1 1557.3,1367.3 1558.9,1368.5 1560.5,1369.7 1562.2,1370.9 1563.8,1372.1 1565.4,1373.3 1567.0,1374.5 1568.6,1375.6 1570.2,1376.8 1571.9,1377.9 1573.6,1379.0 1575.3,1379.9 1577.1,1380.9 1578.9,1381.8 1580.7,1382.7 1582.4,1383.6 1584.3,1384.5 1586.1,1385.3 1587.9,1386.0 1589.8,1386.8 1591.7,1387.5 1593.5,1388.2 1595.4,1388.9 1597.4,1389.4 1599.3,1389.9 1601.3,1390.3 1603.2,1390.7 1605.2,1391.2 1607.1,1391.6 1609.1,1391.9 1611.1,1392.0 1613.0,1392.0 1615.0,1391.8 1617.0,1391.6 1619.0,1391.4 1621.0,1391.1 1622.9,1390.7 1624.9,1390.2 1626.8,1389.6 1628.7,1389.0 1630.6,1388.5 1632.5,1387.9 1634.5,1387.3 1636.4,1386.7 1638.2,1386.0 1640.1,1385.3 1642.0,1384.5 1643.8,1383.8 1645.7,1383.0 1647.5,1382.3 1649.4,1381.5 1651.2,1380.7 1653.0,1379.8 1654.8,1378.9 1656.5,1377.9 1658.3,1376.9 1660.0,1375.9 1661.7,1374.8 1663.3,1373.7 1665.0,1372.6 1666.7,1371.5 1668.4,1370.5 1670.2,1369.6 1672.0,1368.7 1673.8,1367.8 1675.6,1366.9 1677.4,1366.0 1679.2,1365.1 1681.0,1364.2 1682.7,1363.3 1684.5,1362.4 1686.3,1361.6 1688.1,1360.7 1689.9,1359.8 1691.7,1358.9 1693.5,1358.0 1695.3,1357.2 1697.2,1356.4 1699.0,1355.6 1700.9,1354.8 1702.7,1354.1 1704.6,1353.3 1706.5,1352.6 1708.3,1351.9 1710.2,1351.2 1712.1,1350.5 1714.0,1349.8 1715.9,1349.1 1717.7,1348.5 1719.6,1347.8 1721.5,1347.2 1723.4,1346.5 1725.3,1345.9 1727.2,1345.3 1729.2,1344.7 1731.1,1344.2 1733.0,1343.6 1734.9,1343.0 1736.8,1342.5 1738.8,1342.0 1740.8,1341.6 1742.7,1341.3 1744.7,1341.0 1746.7,1340.7 1748.7,1340.4 1750.7,1340.1 1752.6,1339.8 1754.6,1339.5 1756.6,1339.2 1758.6,1338.9 1760.6,1338.6 1762.5,1338.3 1764.5,1338.0 1766.5,1337.8 1768.5,1337.6 1770.5,1337.4 1772.5,1337.2 1774.5,1337.1 1776.5,1336.9 1778.5,1336.7 1780.5,1336.6 1782.5,1336.4 1784.5,1336.2 1786.5,1336.1 1788.5,1335.9 1790.5,1335.8 1792.5,1335.6 1794.5,1335.4 1796.4,1335.3 1798.4,1335.1 1800.4,1334.9 1802.4,1334.8 1804.4,1334.6 1806.4,1334.4 1808.4,1334.3 1810.4,1334.2 1812.4,1334.1 1814.4,1334.0 1816.4,1333.9 1818.4,1333.8 1820.4,1333.7 1822.4,1333.6 1824.4,1333.5 1826.4,1333.4 1828.4,1333.3 1830.4,1333.2 1832.4,1333.1 1834.4,1333.0 1836.4,1332.9 1838.4,1332.8 1840.4,1332.7 1842.4,1332.6 1844.4,1332.5 1846.4,1332.4 1848.4,1332.3 1850.4,1332.2 1852.4,1332.1 1854.4,1332.0 1856.4,1332.0 1858.5,1331.9 1860.5,1331.8 1862.5,1331.8 1864.5,1331.7 1866.5,1331.7 1868.5,1331.6 1870.5,1331.5 1872.5,1331.5 1874.5,1331.4 1876.5,1331.3 1878.5,1331.3 1880.5,1331.2 1882.5,1331.2 1884.5,1331.1 1886.5,1331.0 1888.5,1331.0 1890.5,1330.9 1892.5,1330.8 1894.5,1330.8 1896.5,1330.7 1898.5,1330.7 1900.5,1330.6 1902.5,1330.5 1904.5,1330.5 1906.5,1330.4 1908.5,1330.4 1910.5,1330.3 1912.5,1330.3 1914.5,1330.3 1916.5,1330.2 1918.5,1330.2 1920.5,1330.2 1922.5,1330.2 1924.5,1330.2 1926.5,1330.2 1928.5,1330.1 1930.5,1330.1 1932.5,1330.1 1934.6,1330.1 1936.6,1330.1 1938.6,1330.0 1940.6,1330.0 1942.6,1330.0 1944.6,1330.0 1946.6,1330.0 1948.6,1330.0 1950.6,1329.9 1952.6,1329.9 1954.6,1329.9 1956.6,1329.9 1958.6,1329.9 1960.6,1329.9 1962.6,1329.8 1964.6,1329.8 1966.6,1329.8 1968.6,1329.8 1970.6,1329.8 1972.6,1329.7 1974.6,1329.7 1976.6,1329.7 1978.6,1329.7 1980.6,1329.7 1982.6,1329.7 1984.6,1329.6 1986.6,1329.6 1988.6,1329.6 1990.6,1329.6 1992.6,1329.6 1994.6,1329.5 1996.7,1329.5 1998.7,1329.5 2000.7,1329.5 2002.7,1329.5 2004.7,1329.4 2006.7,1329.4 2008.7,1329.4 2010.7,1329.4 2012.7,1329.3 2014.7,1329.3 2016.7,1329.3 2018.7,1329.3 2020.7,1329.2 2022.7,1329.2 2024.7,1329.2 2026.7,1329.2 2028.7,1329.1 2030.7,1329.1 2032.7,1329.1 2034.7,1329.1 2036.7,1329.0 2038.7,1329.0 2040.7,1329.0 2042.7,1329.0 2044.7,1328.9 2046.7,1328.9 2048.7,1328.9 2050.7,1328.9 2052.7,1328.8 2054.7,1328.8 2056.7,1328.8 2058.7,1328.8 2060.8,1328.7 2062.8,1328.7 2064.8,1328.7 2066.8,1328.7 2068.8,1328.6 2070.8,1328.6 2072.8,1328.6 2074.8,1328.6 2076.8,1328.5 2078.8,1328.5 2080.8,1328.5 2082.8,1328.5 2084.8,1328.4 2086.8,1328.4 2088.8,1328.4 2090.8,1328.4 2092.8,1328.3 2094.8,1328.3 2096.8,1328.3 2098.8,1328.3 2100.8,1328.2 2102.8,1328.2 2104.8,1328.2 2106.8,1328.2 2108.8,1328.1 2110.8,1328.1 2112.8,1328.1 2114.8,1328.1 2116.8,1328.0 2118.8,1328.0 2120.8,1328.0 2122.8,1328.0 2124.9,1328.0 2126.9,1327.9 2128.9,1327.9 2130.9,1327.9 2132.9,1327.9 2134.9,1327.8 2136.9,1327.8 2138.9,1327.8 2140.9,1327.8 2142.9,1327.8 2144.9,1327.7 2146.9,1327.7 2148.9,1327.7 2150.9,1327.7 2152.9,1327.7 2154.9,1327.6 2156.9,1327.6 2158.9,1327.6 2160.9,1327.6 2162.9,1327.6 2164.9,1327.5 2166.9,1327.5 2168.9,1327.5 2170.9,1327.5 2172.9,1327.5 2174.9,1327.4 2176.9,1327.4 2178.9,1327.4 2180.9,1327.4 2182.9,1327.4 2184.9,1327.3 2187.0,1327.3 2189.0,1327.3 2191.0,1327.3 2193.0,1327.3 2195.0,1327.2 2197.0,1327.2 2199.0,1327.2 2201.0,1327.2 2203.0,1327.2 2205.0,1327.1 2207.0,1327.1 2209.0,1327.1 2211.0,1327.1 2213.0,1327.1 2215.0,1327.0 2217.0,1327.0 2218.0,1327.0" stroke="#000"/>
</g>
<text x="1601.4" y="1809.8" textLength="424.8" lengthAdjust="spacingAndGlyphs" class="b">Wavelength (nm)</text>
<text transform="translate(1277.0,1447.8) rotate(-90)" x="0" y="0" textLength="255.2" lengthAdjust="spacingAndGlyphs" class="b">CD (mdeg)</text>
<line x1="1934.6" y1="1031.3" x2="2023.0" y2="1031.3" stroke="#ff0000" stroke-width="6.2"/>
<text x="2024.8" y="1042.8" textLength="156.2" lengthAdjust="spacingAndGlyphs" class="l">3D_Gd-L</text>
<line x1="1934.6" y1="1109.7" x2="2023.0" y2="1109.7" stroke="#000" stroke-width="6.2"/>
<text x="2024.8" y="1121.3" textLength="164.8" lengthAdjust="spacingAndGlyphs" class="l">3D_Gd-D</text>
</svg>
</body></html>
